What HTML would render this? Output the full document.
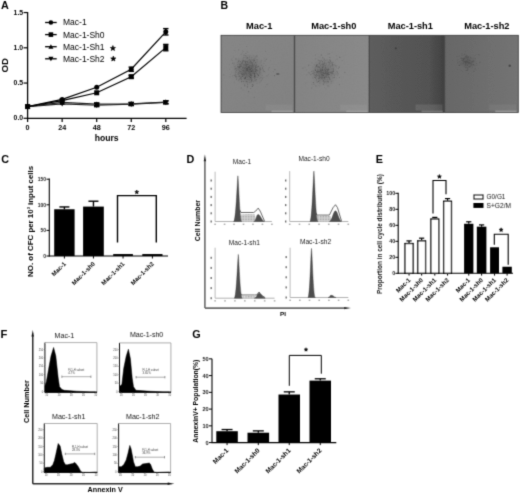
<!DOCTYPE html>
<html><head><meta charset="utf-8"><style>
html,body{margin:0;padding:0;background:#fff;width:520px;height:493px;overflow:hidden}
svg{display:block}
text{font-family:"Liberation Sans",sans-serif}
</style></head><body>
<div id="wrap"><svg width="520" height="493" viewBox="0 0 520 493" font-family="Liberation Sans, sans-serif">
<defs>
<filter id="gb" x="0" y="0" width="520" height="493" filterUnits="userSpaceOnUse"><feConvolveMatrix order="3" kernelMatrix="0.0196 0.1008 0.0196 0.1008 0.5184 0.1008 0.0196 0.1008 0.0196" edgeMode="duplicate"/></filter>
<linearGradient id="g1" x1="0" y1="0" x2="1" y2="1"><stop offset="0" stop-color="#868686"/><stop offset="1" stop-color="#828282"/></linearGradient>
<linearGradient id="g2" x1="0" y1="0" x2="1" y2="0"><stop offset="0" stop-color="#848484"/><stop offset="1" stop-color="#8a8a8a"/></linearGradient>
<linearGradient id="g3" x1="0" y1="0" x2="1" y2="0"><stop offset="0" stop-color="#5e5e5e"/><stop offset="0.8" stop-color="#525252"/><stop offset="1" stop-color="#404040"/></linearGradient>
<linearGradient id="g4" x1="0" y1="0" x2="1" y2="0"><stop offset="0" stop-color="#676767"/><stop offset="1" stop-color="#747474"/></linearGradient>
<radialGradient id="col"><stop offset="0" stop-color="#4a4a4a" stop-opacity="0.55"/><stop offset="0.45" stop-color="#555" stop-opacity="0.3"/><stop offset="1" stop-color="#666" stop-opacity="0"/></radialGradient>
<radialGradient id="col2"><stop offset="0" stop-color="#666" stop-opacity="0.8"/><stop offset="0.5" stop-color="#777" stop-opacity="0.45"/><stop offset="1" stop-color="#888" stop-opacity="0"/></radialGradient>
<filter id="noise" x="0" y="0" width="1" height="1"><feTurbulence type="fractalNoise" baseFrequency="0.9" numOctaves="2" seed="3"/><feColorMatrix type="matrix" values="0 0 0 0 0  0 0 0 0 0  0 0 0 0 0  0 0 0 0.8 -0.35"/><feComposite in2="SourceGraphic" operator="in"/></filter>
<filter id="soft" x="-20%" y="-20%" width="140%" height="140%"><feGaussianBlur stdDeviation="0.3"/></filter>
<pattern id="dots" width="1.6" height="1.6" patternUnits="userSpaceOnUse"><rect width="1.6" height="1.6" fill="#d2d2d2"/><rect width="0.8" height="0.8" fill="#a0a0a0"/></pattern>
<filter id="speck" x="-10%" y="-10%" width="120%" height="120%"><feTurbulence type="fractalNoise" baseFrequency="1.1" numOctaves="1" seed="7" result="t"/><feColorMatrix in="t" type="matrix" values="0 0 0 0 0  0 0 0 0 0  0 0 0 0 0  0 0 0 2.2 -0.6" result="m"/><feComposite in="SourceGraphic" in2="m" operator="in"/></filter>
</defs>
<g filter="url(#gb)">
<text x="0.90" y="8.70" font-size="10.8" font-weight="bold" text-anchor="start" >A</text>
<line x1="27.60" y1="12.00" x2="27.60" y2="118.90" stroke="#000" stroke-width="1.3" />
<line x1="27.00" y1="118.30" x2="186.60" y2="118.30" stroke="#000" stroke-width="1.3" />
<line x1="23.60" y1="118.30" x2="27.60" y2="118.30" stroke="#000" stroke-width="1.2" />
<text x="23.20" y="120.40" font-size="7.9" font-weight="bold" text-anchor="end" textLength="9.6" lengthAdjust="spacingAndGlyphs">0.0</text>
<line x1="23.60" y1="83.05" x2="27.60" y2="83.05" stroke="#000" stroke-width="1.2" />
<text x="23.20" y="85.15" font-size="7.9" font-weight="bold" text-anchor="end" textLength="9.6" lengthAdjust="spacingAndGlyphs">0.5</text>
<line x1="23.60" y1="47.80" x2="27.60" y2="47.80" stroke="#000" stroke-width="1.2" />
<text x="23.20" y="49.90" font-size="7.9" font-weight="bold" text-anchor="end" textLength="9.6" lengthAdjust="spacingAndGlyphs">1.0</text>
<line x1="23.60" y1="12.55" x2="27.60" y2="12.55" stroke="#000" stroke-width="1.2" />
<text x="23.20" y="14.65" font-size="7.9" font-weight="bold" text-anchor="end" textLength="9.6" lengthAdjust="spacingAndGlyphs">1.5</text>
<line x1="27.60" y1="118.30" x2="27.60" y2="122.10" stroke="#000" stroke-width="1.2" />
<text x="27.60" y="129.60" font-size="7.2" font-weight="bold" text-anchor="middle" >0</text>
<line x1="62.15" y1="118.30" x2="62.15" y2="122.10" stroke="#000" stroke-width="1.2" />
<text x="62.15" y="129.60" font-size="7.2" font-weight="bold" text-anchor="middle" >24</text>
<line x1="96.70" y1="118.30" x2="96.70" y2="122.10" stroke="#000" stroke-width="1.2" />
<text x="96.70" y="129.60" font-size="7.2" font-weight="bold" text-anchor="middle" >48</text>
<line x1="131.25" y1="118.30" x2="131.25" y2="122.10" stroke="#000" stroke-width="1.2" />
<text x="131.25" y="129.60" font-size="7.2" font-weight="bold" text-anchor="middle" >72</text>
<line x1="165.80" y1="118.30" x2="165.80" y2="122.10" stroke="#000" stroke-width="1.2" />
<text x="165.80" y="129.60" font-size="7.2" font-weight="bold" text-anchor="middle" >96</text>
<text x="106.70" y="141.00" font-size="8.6" font-weight="bold" text-anchor="middle" >hours</text>
<text transform="translate(8.00,65.30) rotate(-90)" font-size="9.6" font-weight="bold" text-anchor="middle" >OD</text>
<path d="M27.60,106.60 L62.15,103.85 L96.70,105.26 L131.25,104.20 L165.80,102.44" fill="none" stroke="#222" stroke-width="1.2" />
<line x1="96.70" y1="103.85" x2="96.70" y2="106.67" stroke="#000" stroke-width="1.5" />
<line x1="94.00" y1="103.85" x2="99.40" y2="103.85" stroke="#000" stroke-width="1.4" />
<line x1="94.00" y1="106.67" x2="99.40" y2="106.67" stroke="#000" stroke-width="1.4" />
<line x1="131.25" y1="102.79" x2="131.25" y2="105.61" stroke="#000" stroke-width="1.5" />
<line x1="128.55" y1="102.79" x2="133.95" y2="102.79" stroke="#000" stroke-width="1.4" />
<line x1="128.55" y1="105.61" x2="133.95" y2="105.61" stroke="#000" stroke-width="1.4" />
<line x1="165.80" y1="101.03" x2="165.80" y2="103.85" stroke="#000" stroke-width="1.5" />
<line x1="163.10" y1="101.03" x2="168.50" y2="101.03" stroke="#000" stroke-width="1.4" />
<line x1="163.10" y1="103.85" x2="168.50" y2="103.85" stroke="#000" stroke-width="1.4" />
<path d="M27.60,106.60 L62.15,102.44 L96.70,104.20 L131.25,103.78 L165.80,102.08" fill="none" stroke="#222" stroke-width="1.2" />
<line x1="96.70" y1="102.79" x2="96.70" y2="105.61" stroke="#000" stroke-width="1.5" />
<line x1="94.00" y1="102.79" x2="99.40" y2="102.79" stroke="#000" stroke-width="1.4" />
<line x1="94.00" y1="105.61" x2="99.40" y2="105.61" stroke="#000" stroke-width="1.4" />
<line x1="131.25" y1="102.37" x2="131.25" y2="105.19" stroke="#000" stroke-width="1.5" />
<line x1="128.55" y1="102.37" x2="133.95" y2="102.37" stroke="#000" stroke-width="1.4" />
<line x1="128.55" y1="105.19" x2="133.95" y2="105.19" stroke="#000" stroke-width="1.4" />
<line x1="165.80" y1="100.67" x2="165.80" y2="103.49" stroke="#000" stroke-width="1.5" />
<line x1="163.10" y1="100.67" x2="168.50" y2="100.67" stroke="#000" stroke-width="1.4" />
<line x1="163.10" y1="103.49" x2="168.50" y2="103.49" stroke="#000" stroke-width="1.4" />
<path d="M27.60,106.60 L62.15,100.67 L96.70,92.78 L131.25,76.70 L165.80,47.59" fill="none" stroke="#000" stroke-width="1.2" />
<line x1="131.25" y1="75.30" x2="131.25" y2="78.11" stroke="#000" stroke-width="1.5" />
<line x1="128.55" y1="75.30" x2="133.95" y2="75.30" stroke="#000" stroke-width="1.4" />
<line x1="128.55" y1="78.11" x2="133.95" y2="78.11" stroke="#000" stroke-width="1.4" />
<line x1="165.80" y1="44.42" x2="165.80" y2="50.76" stroke="#000" stroke-width="1.5" />
<line x1="163.10" y1="44.42" x2="168.50" y2="44.42" stroke="#000" stroke-width="1.4" />
<line x1="163.10" y1="50.76" x2="168.50" y2="50.76" stroke="#000" stroke-width="1.4" />
<path d="M27.60,106.60 L62.15,99.41 L96.70,87.28 L131.25,69.23 L165.80,31.80" fill="none" stroke="#000" stroke-width="1.2" />
<line x1="131.25" y1="67.12" x2="131.25" y2="71.35" stroke="#000" stroke-width="1.5" />
<line x1="128.55" y1="67.12" x2="133.95" y2="67.12" stroke="#000" stroke-width="1.4" />
<line x1="128.55" y1="71.35" x2="133.95" y2="71.35" stroke="#000" stroke-width="1.4" />
<line x1="165.80" y1="28.62" x2="165.80" y2="34.97" stroke="#000" stroke-width="1.5" />
<line x1="163.10" y1="28.62" x2="168.50" y2="28.62" stroke="#000" stroke-width="1.4" />
<line x1="163.10" y1="34.97" x2="168.50" y2="34.97" stroke="#000" stroke-width="1.4" />
<path d="M24.85,104.35 L30.35,104.35 L27.60,109.35Z" fill="#000"/>
<path d="M59.40,101.60 L64.90,101.60 L62.15,106.60Z" fill="#000"/>
<path d="M93.95,103.01 L99.45,103.01 L96.70,108.01Z" fill="#000"/>
<path d="M128.50,101.95 L134.00,101.95 L131.25,106.95Z" fill="#000"/>
<path d="M163.05,100.19 L168.55,100.19 L165.80,105.19Z" fill="#000"/>
<path d="M24.85,108.85 L30.35,108.85 L27.60,103.85Z" fill="#000"/>
<path d="M59.40,104.69 L64.90,104.69 L62.15,99.69Z" fill="#000"/>
<path d="M93.95,106.45 L99.45,106.45 L96.70,101.45Z" fill="#000"/>
<path d="M128.50,106.03 L134.00,106.03 L131.25,101.03Z" fill="#000"/>
<path d="M163.05,104.33 L168.55,104.33 L165.80,99.33Z" fill="#000"/>
<rect x="25.10" y="104.10" width="5.00" height="5.00" fill="#000" stroke="none" stroke-width="0" />
<rect x="59.65" y="98.17" width="5.00" height="5.00" fill="#000" stroke="none" stroke-width="0" />
<rect x="94.20" y="90.28" width="5.00" height="5.00" fill="#000" stroke="none" stroke-width="0" />
<rect x="128.75" y="74.20" width="5.00" height="5.00" fill="#000" stroke="none" stroke-width="0" />
<rect x="163.30" y="45.09" width="5.00" height="5.00" fill="#000" stroke="none" stroke-width="0" />
<circle cx="27.60" cy="106.60" r="2.5" fill="#000"/>
<circle cx="62.15" cy="99.41" r="2.5" fill="#000"/>
<circle cx="96.70" cy="87.28" r="2.5" fill="#000"/>
<circle cx="131.25" cy="69.23" r="2.5" fill="#000"/>
<circle cx="165.80" cy="31.80" r="2.5" fill="#000"/>
<line x1="45.10" y1="22.50" x2="56.70" y2="22.50" stroke="#000" stroke-width="1.3" />
<circle cx="50.90" cy="22.50" r="2.3" fill="#000"/>
<text x="63.00" y="25.45" font-size="8.5"  text-anchor="start" fill="#000">Mac-1</text>
<line x1="45.10" y1="34.60" x2="56.70" y2="34.60" stroke="#000" stroke-width="1.3" />
<rect x="48.60" y="32.30" width="4.60" height="4.60" fill="#000" stroke="none" stroke-width="0" />
<text x="63.00" y="37.55" font-size="8.5"  text-anchor="start" fill="#000">Mac-1-Sh0</text>
<line x1="45.10" y1="46.70" x2="56.70" y2="46.70" stroke="#000" stroke-width="1.3" />
<path d="M48.37,48.77 L53.43,48.77 L50.90,44.17Z" fill="#000"/>
<text x="63.00" y="49.65" font-size="8.5"  text-anchor="start" fill="#000">Mac-1-Sh1</text>
<line x1="45.10" y1="58.80" x2="56.70" y2="58.80" stroke="#000" stroke-width="1.3" />
<path d="M48.37,56.73 L53.43,56.73 L50.90,61.33Z" fill="#000"/>
<text x="63.00" y="61.75" font-size="8.5"  text-anchor="start" fill="#000">Mac-1-Sh2</text>
<polygon points="112.90,45.60 113.57,47.38 115.47,47.47 113.98,48.65 114.49,50.48 112.90,49.43 111.31,50.48 111.82,48.65 110.33,47.47 112.23,47.38" fill="#000" stroke="#000" stroke-width="0.63" stroke-linejoin="round"/>
<polygon points="113.30,56.10 113.97,57.88 115.87,57.97 114.38,59.15 114.89,60.98 113.30,59.93 111.71,60.98 112.22,59.15 110.73,57.97 112.63,57.88" fill="#000" stroke="#000" stroke-width="0.63" stroke-linejoin="round"/>
<text x="220.50" y="8.80" font-size="10.5" font-weight="bold" text-anchor="start" >B</text>
<rect x="221.00" y="35.30" width="73.50" height="77.20" fill="url(#g1)" stroke="none" stroke-width="0" />
<rect x="221.00" y="35.3" width="73.50" height="77.20" fill="#000" opacity="0.06" filter="url(#noise)"/>
<text x="259.20" y="28.80" font-size="9.25" font-weight="bold" text-anchor="middle" >Mac-1</text>
<rect x="294.50" y="35.30" width="74.80" height="77.20" fill="url(#g2)" stroke="none" stroke-width="0" />
<rect x="294.50" y="35.3" width="74.80" height="77.20" fill="#000" opacity="0.06" filter="url(#noise)"/>
<text x="333.80" y="28.80" font-size="9.25" font-weight="bold" text-anchor="middle" >Mac-1-sh0</text>
<rect x="369.30" y="35.30" width="75.20" height="77.20" fill="url(#g3)" stroke="none" stroke-width="0" />
<rect x="369.30" y="35.3" width="75.20" height="77.20" fill="#000" opacity="0.06" filter="url(#noise)"/>
<text x="410.30" y="28.80" font-size="9.25" font-weight="bold" text-anchor="middle" >Mac-1-sh1</text>
<rect x="444.50" y="35.30" width="73.80" height="77.20" fill="url(#g4)" stroke="none" stroke-width="0" />
<rect x="444.50" y="35.3" width="73.80" height="77.20" fill="#000" opacity="0.06" filter="url(#noise)"/>
<text x="486.90" y="28.80" font-size="9.25" font-weight="bold" text-anchor="middle" >Mac-1-sh2</text>
<g filter="url(#soft)">
<ellipse cx="248.5" cy="70.0" rx="17.6" ry="17.2" fill="url(#col)" opacity="1.0"/>
<circle cx="238.7" cy="72.9" r="0.58" fill="#3c3c3c" opacity="0.34"/>
<circle cx="237.9" cy="69.5" r="0.36" fill="#3c3c3c" opacity="0.35"/>
<circle cx="238.8" cy="59.9" r="0.33" fill="#3c3c3c" opacity="0.29"/>
<circle cx="260.8" cy="77.7" r="0.51" fill="#3c3c3c" opacity="0.21"/>
<circle cx="269.1" cy="67.7" r="0.50" fill="#3c3c3c" opacity="0.38"/>
<circle cx="249.3" cy="71.1" r="0.46" fill="#3c3c3c" opacity="0.22"/>
<circle cx="250.7" cy="75.4" r="0.31" fill="#3c3c3c" opacity="0.34"/>
<circle cx="234.2" cy="75.5" r="0.46" fill="#3c3c3c" opacity="0.39"/>
<circle cx="236.7" cy="70.0" r="0.44" fill="#3c3c3c" opacity="0.28"/>
<circle cx="274.9" cy="69.6" r="0.55" fill="#3c3c3c" opacity="0.41"/>
<circle cx="246.2" cy="75.2" r="0.39" fill="#3c3c3c" opacity="0.22"/>
<circle cx="249.3" cy="62.2" r="0.55" fill="#3c3c3c" opacity="0.32"/>
<circle cx="263.5" cy="66.1" r="0.30" fill="#3c3c3c" opacity="0.26"/>
<circle cx="256.1" cy="65.3" r="0.59" fill="#3c3c3c" opacity="0.32"/>
<circle cx="258.6" cy="74.9" r="0.53" fill="#3c3c3c" opacity="0.28"/>
<circle cx="254.6" cy="73.7" r="0.59" fill="#3c3c3c" opacity="0.43"/>
<circle cx="252.9" cy="74.0" r="0.33" fill="#3c3c3c" opacity="0.22"/>
<circle cx="250.0" cy="65.3" r="0.47" fill="#3c3c3c" opacity="0.33"/>
<circle cx="253.2" cy="81.8" r="0.34" fill="#3c3c3c" opacity="0.39"/>
<circle cx="254.7" cy="75.4" r="0.36" fill="#3c3c3c" opacity="0.28"/>
<circle cx="262.7" cy="67.4" r="0.39" fill="#3c3c3c" opacity="0.47"/>
<circle cx="250.5" cy="77.6" r="0.56" fill="#3c3c3c" opacity="0.39"/>
<circle cx="268.0" cy="83.9" r="0.36" fill="#3c3c3c" opacity="0.28"/>
<circle cx="249.5" cy="63.1" r="0.39" fill="#3c3c3c" opacity="0.22"/>
<circle cx="257.4" cy="75.5" r="0.37" fill="#3c3c3c" opacity="0.38"/>
<circle cx="242.4" cy="76.2" r="0.59" fill="#3c3c3c" opacity="0.35"/>
<circle cx="234.2" cy="62.9" r="0.35" fill="#3c3c3c" opacity="0.25"/>
<circle cx="260.9" cy="62.2" r="0.37" fill="#3c3c3c" opacity="0.26"/>
<circle cx="247.2" cy="51.5" r="0.36" fill="#3c3c3c" opacity="0.49"/>
<circle cx="256.5" cy="62.8" r="0.43" fill="#3c3c3c" opacity="0.23"/>
<circle cx="268.4" cy="74.8" r="0.37" fill="#3c3c3c" opacity="0.41"/>
<circle cx="247.8" cy="84.5" r="0.48" fill="#3c3c3c" opacity="0.29"/>
<circle cx="254.3" cy="81.1" r="0.32" fill="#3c3c3c" opacity="0.27"/>
<circle cx="233.9" cy="64.4" r="0.48" fill="#3c3c3c" opacity="0.28"/>
<circle cx="253.2" cy="67.4" r="0.30" fill="#3c3c3c" opacity="0.28"/>
<circle cx="245.8" cy="70.9" r="0.35" fill="#3c3c3c" opacity="0.31"/>
<circle cx="244.7" cy="68.2" r="0.41" fill="#3c3c3c" opacity="0.47"/>
<circle cx="260.1" cy="68.6" r="0.51" fill="#3c3c3c" opacity="0.38"/>
<circle cx="249.9" cy="71.6" r="0.31" fill="#3c3c3c" opacity="0.47"/>
<circle cx="242.3" cy="50.9" r="0.31" fill="#3c3c3c" opacity="0.39"/>
<circle cx="235.6" cy="71.4" r="0.40" fill="#3c3c3c" opacity="0.50"/>
<circle cx="257.5" cy="74.5" r="0.52" fill="#3c3c3c" opacity="0.47"/>
<circle cx="247.5" cy="57.9" r="0.54" fill="#3c3c3c" opacity="0.47"/>
<circle cx="241.2" cy="79.5" r="0.57" fill="#3c3c3c" opacity="0.46"/>
<circle cx="236.2" cy="76.9" r="0.56" fill="#3c3c3c" opacity="0.37"/>
<circle cx="242.9" cy="64.6" r="0.47" fill="#3c3c3c" opacity="0.38"/>
<circle cx="258.5" cy="75.4" r="0.60" fill="#3c3c3c" opacity="0.46"/>
<circle cx="247.4" cy="62.3" r="0.52" fill="#3c3c3c" opacity="0.37"/>
<circle cx="234.3" cy="75.4" r="0.33" fill="#3c3c3c" opacity="0.43"/>
<circle cx="259.2" cy="72.0" r="0.44" fill="#3c3c3c" opacity="0.27"/>
<circle cx="245.5" cy="61.3" r="0.48" fill="#3c3c3c" opacity="0.48"/>
<circle cx="248.5" cy="71.2" r="0.39" fill="#3c3c3c" opacity="0.40"/>
<circle cx="249.9" cy="74.5" r="0.57" fill="#3c3c3c" opacity="0.40"/>
<circle cx="232.7" cy="75.9" r="0.40" fill="#3c3c3c" opacity="0.40"/>
<circle cx="251.2" cy="77.9" r="0.54" fill="#3c3c3c" opacity="0.47"/>
<circle cx="254.3" cy="64.7" r="0.47" fill="#3c3c3c" opacity="0.29"/>
<circle cx="254.6" cy="76.9" r="0.55" fill="#3c3c3c" opacity="0.45"/>
<circle cx="243.8" cy="51.5" r="0.38" fill="#3c3c3c" opacity="0.25"/>
<circle cx="242.4" cy="71.9" r="0.36" fill="#3c3c3c" opacity="0.32"/>
<circle cx="241.9" cy="63.5" r="0.39" fill="#3c3c3c" opacity="0.45"/>
<circle cx="257.2" cy="69.0" r="0.32" fill="#3c3c3c" opacity="0.21"/>
<circle cx="250.1" cy="68.4" r="0.51" fill="#3c3c3c" opacity="0.37"/>
<circle cx="243.4" cy="82.9" r="0.31" fill="#3c3c3c" opacity="0.24"/>
<circle cx="246.8" cy="70.5" r="0.55" fill="#3c3c3c" opacity="0.27"/>
<circle cx="250.1" cy="71.9" r="0.49" fill="#3c3c3c" opacity="0.33"/>
<circle cx="240.5" cy="61.7" r="0.54" fill="#3c3c3c" opacity="0.49"/>
<circle cx="246.4" cy="65.2" r="0.44" fill="#3c3c3c" opacity="0.25"/>
<circle cx="257.5" cy="70.6" r="0.51" fill="#3c3c3c" opacity="0.25"/>
<circle cx="247.5" cy="77.1" r="0.51" fill="#3c3c3c" opacity="0.36"/>
<circle cx="238.4" cy="61.4" r="0.42" fill="#3c3c3c" opacity="0.44"/>
<circle cx="251.3" cy="68.1" r="0.58" fill="#3c3c3c" opacity="0.42"/>
<circle cx="254.5" cy="76.2" r="0.49" fill="#3c3c3c" opacity="0.47"/>
<circle cx="241.1" cy="77.1" r="0.56" fill="#3c3c3c" opacity="0.44"/>
<circle cx="256.9" cy="67.0" r="0.50" fill="#3c3c3c" opacity="0.26"/>
<circle cx="245.9" cy="55.8" r="0.49" fill="#3c3c3c" opacity="0.42"/>
<circle cx="252.4" cy="86.3" r="0.59" fill="#3c3c3c" opacity="0.49"/>
<circle cx="234.7" cy="66.8" r="0.40" fill="#3c3c3c" opacity="0.47"/>
<circle cx="253.1" cy="64.3" r="0.32" fill="#3c3c3c" opacity="0.33"/>
<circle cx="235.5" cy="65.9" r="0.45" fill="#3c3c3c" opacity="0.21"/>
<circle cx="249.6" cy="67.4" r="0.54" fill="#3c3c3c" opacity="0.25"/>
<circle cx="241.3" cy="81.8" r="0.34" fill="#3c3c3c" opacity="0.24"/>
<circle cx="235.7" cy="68.7" r="0.55" fill="#3c3c3c" opacity="0.41"/>
<circle cx="257.3" cy="67.0" r="0.58" fill="#3c3c3c" opacity="0.23"/>
<circle cx="250.2" cy="79.4" r="0.39" fill="#3c3c3c" opacity="0.42"/>
<circle cx="242.2" cy="62.7" r="0.55" fill="#3c3c3c" opacity="0.37"/>
<circle cx="245.5" cy="77.1" r="0.55" fill="#3c3c3c" opacity="0.47"/>
<circle cx="252.5" cy="84.7" r="0.59" fill="#3c3c3c" opacity="0.36"/>
<circle cx="243.7" cy="67.7" r="0.46" fill="#3c3c3c" opacity="0.35"/>
<circle cx="247.0" cy="68.9" r="0.59" fill="#3c3c3c" opacity="0.35"/>
<circle cx="236.8" cy="78.2" r="0.47" fill="#3c3c3c" opacity="0.35"/>
<circle cx="247.4" cy="67.3" r="0.46" fill="#3c3c3c" opacity="0.32"/>
<circle cx="266.0" cy="65.3" r="0.38" fill="#3c3c3c" opacity="0.34"/>
<circle cx="254.5" cy="76.0" r="0.54" fill="#3c3c3c" opacity="0.47"/>
<circle cx="241.6" cy="71.0" r="0.36" fill="#3c3c3c" opacity="0.39"/>
<circle cx="252.3" cy="68.1" r="0.53" fill="#3c3c3c" opacity="0.21"/>
<circle cx="250.5" cy="75.3" r="0.51" fill="#3c3c3c" opacity="0.30"/>
<circle cx="241.7" cy="78.6" r="0.33" fill="#3c3c3c" opacity="0.42"/>
<circle cx="255.4" cy="76.5" r="0.38" fill="#3c3c3c" opacity="0.26"/>
<circle cx="240.1" cy="68.4" r="0.41" fill="#3c3c3c" opacity="0.32"/>
<circle cx="243.9" cy="69.2" r="0.36" fill="#3c3c3c" opacity="0.39"/>
<circle cx="242.2" cy="62.7" r="0.56" fill="#3c3c3c" opacity="0.38"/>
<circle cx="252.1" cy="65.6" r="0.52" fill="#3c3c3c" opacity="0.44"/>
<circle cx="254.2" cy="66.1" r="0.39" fill="#3c3c3c" opacity="0.48"/>
<circle cx="254.2" cy="97.4" r="0.57" fill="#3c3c3c" opacity="0.24"/>
<circle cx="249.4" cy="82.5" r="0.38" fill="#3c3c3c" opacity="0.23"/>
<circle cx="252.6" cy="62.9" r="0.54" fill="#3c3c3c" opacity="0.24"/>
<circle cx="238.5" cy="76.8" r="0.31" fill="#3c3c3c" opacity="0.26"/>
<circle cx="241.2" cy="54.4" r="0.59" fill="#3c3c3c" opacity="0.23"/>
<circle cx="235.0" cy="69.5" r="0.45" fill="#3c3c3c" opacity="0.41"/>
<circle cx="249.6" cy="72.8" r="0.33" fill="#3c3c3c" opacity="0.21"/>
<circle cx="239.4" cy="67.0" r="0.47" fill="#3c3c3c" opacity="0.24"/>
<circle cx="250.7" cy="74.8" r="0.55" fill="#3c3c3c" opacity="0.50"/>
<circle cx="251.7" cy="68.5" r="0.32" fill="#3c3c3c" opacity="0.49"/>
<circle cx="235.3" cy="73.1" r="0.40" fill="#3c3c3c" opacity="0.34"/>
<circle cx="240.1" cy="69.2" r="0.48" fill="#3c3c3c" opacity="0.20"/>
<circle cx="243.8" cy="55.7" r="0.35" fill="#3c3c3c" opacity="0.34"/>
<circle cx="248.0" cy="62.1" r="0.36" fill="#3c3c3c" opacity="0.25"/>
<circle cx="247.1" cy="69.9" r="0.57" fill="#3c3c3c" opacity="0.44"/>
<circle cx="244.0" cy="55.1" r="0.49" fill="#3c3c3c" opacity="0.32"/>
<circle cx="240.8" cy="64.6" r="0.59" fill="#3c3c3c" opacity="0.44"/>
<circle cx="247.6" cy="87.1" r="0.52" fill="#3c3c3c" opacity="0.43"/>
<circle cx="251.7" cy="62.7" r="0.57" fill="#3c3c3c" opacity="0.46"/>
<circle cx="243.9" cy="57.5" r="0.53" fill="#3c3c3c" opacity="0.32"/>
<circle cx="248.0" cy="67.1" r="0.40" fill="#3c3c3c" opacity="0.34"/>
<circle cx="256.0" cy="70.5" r="0.49" fill="#3c3c3c" opacity="0.39"/>
<circle cx="250.7" cy="88.6" r="0.50" fill="#3c3c3c" opacity="0.30"/>
<circle cx="242.9" cy="61.5" r="0.46" fill="#3c3c3c" opacity="0.32"/>
<circle cx="260.0" cy="70.0" r="0.51" fill="#3c3c3c" opacity="0.43"/>
<circle cx="250.2" cy="69.8" r="0.48" fill="#3c3c3c" opacity="0.42"/>
<circle cx="248.2" cy="77.9" r="0.32" fill="#3c3c3c" opacity="0.26"/>
<circle cx="245.9" cy="72.5" r="0.38" fill="#3c3c3c" opacity="0.47"/>
<circle cx="239.4" cy="67.1" r="0.59" fill="#3c3c3c" opacity="0.37"/>
<circle cx="259.9" cy="69.7" r="0.54" fill="#3c3c3c" opacity="0.22"/>
<circle cx="237.5" cy="62.4" r="0.31" fill="#3c3c3c" opacity="0.48"/>
<circle cx="253.3" cy="77.4" r="0.35" fill="#3c3c3c" opacity="0.35"/>
<circle cx="246.4" cy="68.3" r="0.58" fill="#3c3c3c" opacity="0.33"/>
<circle cx="237.9" cy="68.2" r="0.41" fill="#3c3c3c" opacity="0.29"/>
<circle cx="242.7" cy="61.7" r="0.39" fill="#3c3c3c" opacity="0.41"/>
<circle cx="248.1" cy="71.3" r="0.37" fill="#3c3c3c" opacity="0.21"/>
<circle cx="255.9" cy="80.9" r="0.42" fill="#3c3c3c" opacity="0.47"/>
<circle cx="248.5" cy="67.5" r="0.60" fill="#3c3c3c" opacity="0.48"/>
<circle cx="264.1" cy="77.6" r="0.43" fill="#3c3c3c" opacity="0.34"/>
<circle cx="254.4" cy="69.0" r="0.46" fill="#3c3c3c" opacity="0.48"/>
<circle cx="247.0" cy="61.4" r="0.59" fill="#3c3c3c" opacity="0.45"/>
<circle cx="245.4" cy="67.7" r="0.49" fill="#3c3c3c" opacity="0.34"/>
<circle cx="249.3" cy="72.4" r="0.46" fill="#3c3c3c" opacity="0.24"/>
<circle cx="237.4" cy="74.1" r="0.44" fill="#3c3c3c" opacity="0.28"/>
<circle cx="241.2" cy="66.0" r="0.53" fill="#3c3c3c" opacity="0.36"/>
<circle cx="268.3" cy="69.7" r="0.52" fill="#3c3c3c" opacity="0.27"/>
<circle cx="261.3" cy="80.8" r="0.54" fill="#3c3c3c" opacity="0.39"/>
<circle cx="244.5" cy="74.8" r="0.51" fill="#3c3c3c" opacity="0.37"/>
<circle cx="239.0" cy="64.0" r="0.53" fill="#3c3c3c" opacity="0.26"/>
<circle cx="248.6" cy="91.8" r="0.57" fill="#3c3c3c" opacity="0.46"/>
<circle cx="251.2" cy="70.7" r="0.38" fill="#3c3c3c" opacity="0.33"/>
<circle cx="245.8" cy="67.5" r="0.46" fill="#3c3c3c" opacity="0.22"/>
<circle cx="258.8" cy="76.1" r="0.47" fill="#3c3c3c" opacity="0.39"/>
<circle cx="242.1" cy="76.4" r="0.36" fill="#3c3c3c" opacity="0.30"/>
<circle cx="248.0" cy="55.1" r="0.32" fill="#3c3c3c" opacity="0.24"/>
<circle cx="252.6" cy="59.8" r="0.53" fill="#3c3c3c" opacity="0.26"/>
<circle cx="243.0" cy="72.8" r="0.54" fill="#3c3c3c" opacity="0.31"/>
<circle cx="234.8" cy="50.7" r="0.40" fill="#3c3c3c" opacity="0.36"/>
<circle cx="248.1" cy="52.4" r="0.43" fill="#3c3c3c" opacity="0.31"/>
<circle cx="261.9" cy="79.1" r="0.32" fill="#3c3c3c" opacity="0.22"/>
<circle cx="240.0" cy="66.5" r="0.51" fill="#3c3c3c" opacity="0.29"/>
<circle cx="249.0" cy="66.9" r="0.36" fill="#3c3c3c" opacity="0.40"/>
<circle cx="254.4" cy="73.3" r="0.52" fill="#3c3c3c" opacity="0.41"/>
<circle cx="247.6" cy="74.2" r="0.41" fill="#3c3c3c" opacity="0.42"/>
<circle cx="245.8" cy="72.9" r="0.51" fill="#3c3c3c" opacity="0.37"/>
<circle cx="265.0" cy="60.9" r="0.57" fill="#3c3c3c" opacity="0.33"/>
<circle cx="250.7" cy="63.7" r="0.40" fill="#3c3c3c" opacity="0.32"/>
<circle cx="264.1" cy="63.4" r="0.37" fill="#3c3c3c" opacity="0.31"/>
<circle cx="243.5" cy="75.5" r="0.42" fill="#3c3c3c" opacity="0.32"/>
<circle cx="252.0" cy="79.5" r="0.54" fill="#3c3c3c" opacity="0.36"/>
<circle cx="253.8" cy="61.4" r="0.35" fill="#3c3c3c" opacity="0.43"/>
<circle cx="253.3" cy="65.7" r="0.31" fill="#3c3c3c" opacity="0.35"/>
<circle cx="238.5" cy="67.2" r="0.59" fill="#3c3c3c" opacity="0.40"/>
<circle cx="249.5" cy="67.3" r="0.46" fill="#3c3c3c" opacity="0.44"/>
<circle cx="251.4" cy="71.6" r="0.52" fill="#3c3c3c" opacity="0.47"/>
<circle cx="258.3" cy="75.6" r="0.34" fill="#3c3c3c" opacity="0.42"/>
<circle cx="244.9" cy="65.3" r="0.37" fill="#3c3c3c" opacity="0.43"/>
<circle cx="235.0" cy="68.2" r="0.42" fill="#3c3c3c" opacity="0.30"/>
<circle cx="260.2" cy="67.7" r="0.45" fill="#3c3c3c" opacity="0.36"/>
<circle cx="246.2" cy="58.0" r="0.57" fill="#3c3c3c" opacity="0.32"/>
<circle cx="254.0" cy="59.7" r="0.56" fill="#3c3c3c" opacity="0.44"/>
<circle cx="256.9" cy="55.9" r="0.59" fill="#3c3c3c" opacity="0.39"/>
<circle cx="236.1" cy="68.2" r="0.54" fill="#3c3c3c" opacity="0.33"/>
<circle cx="244.6" cy="72.1" r="0.52" fill="#3c3c3c" opacity="0.50"/>
<circle cx="245.1" cy="73.3" r="0.36" fill="#3c3c3c" opacity="0.33"/>
<circle cx="243.0" cy="89.9" r="0.32" fill="#3c3c3c" opacity="0.29"/>
<circle cx="257.2" cy="77.4" r="0.53" fill="#3c3c3c" opacity="0.25"/>
<circle cx="256.7" cy="73.3" r="0.48" fill="#3c3c3c" opacity="0.47"/>
<circle cx="252.2" cy="70.8" r="0.36" fill="#3c3c3c" opacity="0.27"/>
<circle cx="249.7" cy="82.3" r="0.48" fill="#3c3c3c" opacity="0.27"/>
<circle cx="251.1" cy="75.8" r="0.35" fill="#3c3c3c" opacity="0.43"/>
<circle cx="244.7" cy="79.1" r="0.55" fill="#3c3c3c" opacity="0.34"/>
<circle cx="247.4" cy="86.3" r="0.57" fill="#3c3c3c" opacity="0.30"/>
<circle cx="229.3" cy="64.3" r="0.44" fill="#3c3c3c" opacity="0.27"/>
<circle cx="267.0" cy="75.8" r="0.54" fill="#3c3c3c" opacity="0.32"/>
<circle cx="239.0" cy="68.4" r="0.38" fill="#3c3c3c" opacity="0.50"/>
<circle cx="245.3" cy="65.2" r="0.30" fill="#3c3c3c" opacity="0.34"/>
<circle cx="238.6" cy="80.1" r="0.51" fill="#3c3c3c" opacity="0.38"/>
<circle cx="251.1" cy="73.8" r="0.40" fill="#3c3c3c" opacity="0.28"/>
<circle cx="255.1" cy="63.1" r="0.49" fill="#3c3c3c" opacity="0.50"/>
<circle cx="247.5" cy="79.6" r="0.35" fill="#3c3c3c" opacity="0.43"/>
<circle cx="263.3" cy="70.1" r="0.55" fill="#3c3c3c" opacity="0.45"/>
<circle cx="254.0" cy="73.1" r="0.51" fill="#3c3c3c" opacity="0.23"/>
<circle cx="239.6" cy="71.1" r="0.59" fill="#3c3c3c" opacity="0.38"/>
<circle cx="252.7" cy="64.8" r="0.54" fill="#3c3c3c" opacity="0.33"/>
<circle cx="251.5" cy="68.3" r="0.55" fill="#3c3c3c" opacity="0.26"/>
<circle cx="239.1" cy="67.4" r="0.35" fill="#3c3c3c" opacity="0.45"/>
<circle cx="245.9" cy="76.2" r="0.32" fill="#3c3c3c" opacity="0.29"/>
<circle cx="236.1" cy="72.5" r="0.41" fill="#3c3c3c" opacity="0.41"/>
<circle cx="254.8" cy="74.8" r="0.44" fill="#3c3c3c" opacity="0.49"/>
<circle cx="254.1" cy="60.0" r="0.30" fill="#3c3c3c" opacity="0.31"/>
<circle cx="247.0" cy="64.4" r="0.47" fill="#3c3c3c" opacity="0.34"/>
<circle cx="273.2" cy="71.6" r="0.54" fill="#3c3c3c" opacity="0.26"/>
<circle cx="243.6" cy="65.7" r="0.41" fill="#3c3c3c" opacity="0.36"/>
<circle cx="246.3" cy="76.8" r="0.42" fill="#3c3c3c" opacity="0.40"/>
<circle cx="248.3" cy="75.2" r="0.52" fill="#3c3c3c" opacity="0.30"/>
<circle cx="258.2" cy="66.6" r="0.52" fill="#3c3c3c" opacity="0.30"/>
<circle cx="250.1" cy="67.0" r="0.34" fill="#3c3c3c" opacity="0.23"/>
<circle cx="243.0" cy="59.0" r="0.35" fill="#3c3c3c" opacity="0.32"/>
<circle cx="254.1" cy="61.1" r="0.33" fill="#3c3c3c" opacity="0.27"/>
<circle cx="250.8" cy="73.4" r="0.42" fill="#3c3c3c" opacity="0.22"/>
<circle cx="255.9" cy="66.1" r="0.45" fill="#3c3c3c" opacity="0.39"/>
<circle cx="250.1" cy="55.6" r="0.42" fill="#3c3c3c" opacity="0.30"/>
<circle cx="247.3" cy="70.7" r="0.42" fill="#3c3c3c" opacity="0.41"/>
<circle cx="262.5" cy="68.4" r="0.50" fill="#3c3c3c" opacity="0.38"/>
<circle cx="255.6" cy="70.8" r="0.40" fill="#3c3c3c" opacity="0.40"/>
<circle cx="254.6" cy="74.7" r="0.45" fill="#3c3c3c" opacity="0.44"/>
<circle cx="253.5" cy="60.4" r="0.35" fill="#3c3c3c" opacity="0.43"/>
<circle cx="256.8" cy="64.4" r="0.41" fill="#3c3c3c" opacity="0.35"/>
<circle cx="256.5" cy="79.6" r="0.60" fill="#3c3c3c" opacity="0.35"/>
<circle cx="245.2" cy="55.5" r="0.36" fill="#3c3c3c" opacity="0.48"/>
<circle cx="244.8" cy="66.3" r="0.32" fill="#3c3c3c" opacity="0.27"/>
<circle cx="237.5" cy="64.4" r="0.40" fill="#3c3c3c" opacity="0.48"/>
<circle cx="242.8" cy="76.7" r="0.34" fill="#3c3c3c" opacity="0.49"/>
<circle cx="259.9" cy="82.7" r="0.46" fill="#3c3c3c" opacity="0.37"/>
<circle cx="242.7" cy="67.7" r="0.57" fill="#3c3c3c" opacity="0.50"/>
<circle cx="253.0" cy="60.4" r="0.34" fill="#3c3c3c" opacity="0.45"/>
<circle cx="244.4" cy="86.1" r="0.37" fill="#3c3c3c" opacity="0.37"/>
<circle cx="251.0" cy="65.6" r="0.46" fill="#3c3c3c" opacity="0.22"/>
<circle cx="253.4" cy="71.0" r="0.60" fill="#3c3c3c" opacity="0.48"/>
<circle cx="244.8" cy="64.4" r="0.50" fill="#3c3c3c" opacity="0.42"/>
<circle cx="240.6" cy="77.1" r="0.54" fill="#3c3c3c" opacity="0.20"/>
<circle cx="251.3" cy="78.3" r="0.34" fill="#3c3c3c" opacity="0.32"/>
<circle cx="244.0" cy="68.0" r="0.46" fill="#3c3c3c" opacity="0.28"/>
<circle cx="242.0" cy="67.1" r="0.49" fill="#3c3c3c" opacity="0.21"/>
<circle cx="246.4" cy="66.2" r="0.59" fill="#3c3c3c" opacity="0.38"/>
<circle cx="240.4" cy="71.5" r="0.49" fill="#3c3c3c" opacity="0.41"/>
<circle cx="249.2" cy="57.0" r="0.45" fill="#3c3c3c" opacity="0.50"/>
<circle cx="256.8" cy="57.0" r="0.42" fill="#3c3c3c" opacity="0.33"/>
<circle cx="232.6" cy="63.2" r="0.46" fill="#3c3c3c" opacity="0.36"/>
<circle cx="232.7" cy="77.0" r="0.40" fill="#3c3c3c" opacity="0.22"/>
<circle cx="245.9" cy="53.5" r="0.52" fill="#3c3c3c" opacity="0.38"/>
<circle cx="248.6" cy="63.3" r="0.48" fill="#3c3c3c" opacity="0.22"/>
<circle cx="254.7" cy="76.0" r="0.45" fill="#3c3c3c" opacity="0.32"/>
<circle cx="260.2" cy="73.9" r="0.46" fill="#3c3c3c" opacity="0.27"/>
<circle cx="245.7" cy="77.3" r="0.37" fill="#3c3c3c" opacity="0.22"/>
<circle cx="266.2" cy="59.2" r="0.50" fill="#3c3c3c" opacity="0.46"/>
<circle cx="235.8" cy="76.7" r="0.37" fill="#3c3c3c" opacity="0.42"/>
<circle cx="232.7" cy="63.1" r="0.33" fill="#3c3c3c" opacity="0.44"/>
<circle cx="255.6" cy="76.8" r="0.59" fill="#3c3c3c" opacity="0.20"/>
<circle cx="248.8" cy="76.6" r="0.40" fill="#3c3c3c" opacity="0.22"/>
<circle cx="260.1" cy="61.2" r="0.42" fill="#3c3c3c" opacity="0.31"/>
<circle cx="246.4" cy="68.8" r="0.31" fill="#3c3c3c" opacity="0.47"/>
<circle cx="245.2" cy="78.6" r="0.58" fill="#3c3c3c" opacity="0.49"/>
<circle cx="243.1" cy="70.9" r="0.39" fill="#3c3c3c" opacity="0.48"/>
<circle cx="252.7" cy="66.9" r="0.55" fill="#3c3c3c" opacity="0.31"/>
<circle cx="243.7" cy="70.8" r="0.56" fill="#3c3c3c" opacity="0.50"/>
<circle cx="251.9" cy="80.5" r="0.36" fill="#3c3c3c" opacity="0.46"/>
<circle cx="252.1" cy="71.1" r="0.52" fill="#3c3c3c" opacity="0.29"/>
<circle cx="261.6" cy="60.8" r="0.51" fill="#3c3c3c" opacity="0.24"/>
<circle cx="242.2" cy="52.7" r="0.43" fill="#3c3c3c" opacity="0.22"/>
<circle cx="249.6" cy="76.6" r="0.51" fill="#3c3c3c" opacity="0.26"/>
<circle cx="251.0" cy="75.2" r="0.50" fill="#3c3c3c" opacity="0.44"/>
<circle cx="240.3" cy="78.2" r="0.57" fill="#3c3c3c" opacity="0.38"/>
<circle cx="249.4" cy="76.5" r="0.58" fill="#3c3c3c" opacity="0.40"/>
<circle cx="246.6" cy="81.0" r="0.33" fill="#3c3c3c" opacity="0.49"/>
<circle cx="239.4" cy="73.5" r="0.46" fill="#3c3c3c" opacity="0.21"/>
<circle cx="243.2" cy="66.3" r="0.38" fill="#3c3c3c" opacity="0.44"/>
<circle cx="254.1" cy="73.3" r="0.53" fill="#3c3c3c" opacity="0.27"/>
<circle cx="246.7" cy="79.7" r="0.36" fill="#3c3c3c" opacity="0.47"/>
<circle cx="250.6" cy="69.8" r="0.44" fill="#3c3c3c" opacity="0.43"/>
<circle cx="234.7" cy="81.9" r="0.45" fill="#3c3c3c" opacity="0.25"/>
<circle cx="237.7" cy="66.1" r="0.41" fill="#3c3c3c" opacity="0.40"/>
<circle cx="250.5" cy="60.8" r="0.45" fill="#3c3c3c" opacity="0.45"/>
<circle cx="244.6" cy="61.3" r="0.59" fill="#3c3c3c" opacity="0.25"/>
<circle cx="249.4" cy="65.4" r="0.48" fill="#3c3c3c" opacity="0.27"/>
<circle cx="235.7" cy="74.9" r="0.54" fill="#3c3c3c" opacity="0.44"/>
<circle cx="249.3" cy="79.0" r="0.37" fill="#3c3c3c" opacity="0.37"/>
<circle cx="246.4" cy="70.0" r="0.48" fill="#3c3c3c" opacity="0.41"/>
<circle cx="233.9" cy="63.0" r="0.35" fill="#3c3c3c" opacity="0.25"/>
<circle cx="257.8" cy="71.0" r="0.43" fill="#3c3c3c" opacity="0.33"/>
<circle cx="247.3" cy="83.9" r="0.32" fill="#3c3c3c" opacity="0.47"/>
<circle cx="239.4" cy="65.9" r="0.54" fill="#3c3c3c" opacity="0.27"/>
<circle cx="252.7" cy="75.4" r="0.31" fill="#3c3c3c" opacity="0.29"/>
<circle cx="241.4" cy="63.4" r="0.38" fill="#3c3c3c" opacity="0.38"/>
<circle cx="261.1" cy="77.6" r="0.35" fill="#3c3c3c" opacity="0.28"/>
<circle cx="255.1" cy="80.1" r="0.55" fill="#3c3c3c" opacity="0.44"/>
<circle cx="256.1" cy="73.0" r="0.41" fill="#3c3c3c" opacity="0.26"/>
<circle cx="250.8" cy="69.6" r="0.45" fill="#3c3c3c" opacity="0.43"/>
<circle cx="253.0" cy="69.6" r="0.44" fill="#3c3c3c" opacity="0.42"/>
<circle cx="254.3" cy="71.4" r="0.57" fill="#3c3c3c" opacity="0.24"/>
<circle cx="243.2" cy="74.1" r="0.43" fill="#3c3c3c" opacity="0.22"/>
<circle cx="274.5" cy="75.6" r="0.53" fill="#3c3c3c" opacity="0.42"/>
<circle cx="249.3" cy="75.9" r="0.47" fill="#3c3c3c" opacity="0.27"/>
<circle cx="230.5" cy="74.3" r="0.41" fill="#3c3c3c" opacity="0.30"/>
<circle cx="259.4" cy="68.7" r="0.31" fill="#3c3c3c" opacity="0.32"/>
<circle cx="246.9" cy="67.8" r="0.40" fill="#3c3c3c" opacity="0.41"/>
<circle cx="255.5" cy="62.2" r="0.57" fill="#3c3c3c" opacity="0.34"/>
<circle cx="236.5" cy="79.4" r="0.41" fill="#3c3c3c" opacity="0.43"/>
<circle cx="250.1" cy="77.0" r="0.36" fill="#3c3c3c" opacity="0.36"/>
<circle cx="251.3" cy="74.5" r="0.36" fill="#3c3c3c" opacity="0.34"/>
<circle cx="245.4" cy="77.9" r="0.60" fill="#3c3c3c" opacity="0.40"/>
<circle cx="252.0" cy="66.0" r="0.41" fill="#3c3c3c" opacity="0.22"/>
<circle cx="245.8" cy="63.1" r="0.38" fill="#3c3c3c" opacity="0.21"/>
<circle cx="251.1" cy="75.5" r="0.42" fill="#3c3c3c" opacity="0.48"/>
<circle cx="247.1" cy="64.0" r="0.41" fill="#3c3c3c" opacity="0.25"/>
<circle cx="255.5" cy="67.1" r="0.53" fill="#3c3c3c" opacity="0.42"/>
<circle cx="249.9" cy="69.1" r="0.40" fill="#3c3c3c" opacity="0.32"/>
<circle cx="262.8" cy="78.1" r="0.40" fill="#3c3c3c" opacity="0.43"/>
<circle cx="245.8" cy="69.7" r="0.42" fill="#3c3c3c" opacity="0.27"/>
<circle cx="252.9" cy="71.1" r="0.48" fill="#3c3c3c" opacity="0.21"/>
<circle cx="245.3" cy="77.6" r="0.46" fill="#3c3c3c" opacity="0.24"/>
<circle cx="246.8" cy="64.2" r="0.52" fill="#3c3c3c" opacity="0.40"/>
<circle cx="251.8" cy="74.2" r="0.38" fill="#3c3c3c" opacity="0.41"/>
<circle cx="242.0" cy="74.3" r="0.56" fill="#3c3c3c" opacity="0.27"/>
<circle cx="246.6" cy="76.9" r="0.36" fill="#3c3c3c" opacity="0.21"/>
<circle cx="259.7" cy="71.7" r="0.47" fill="#3c3c3c" opacity="0.44"/>
<circle cx="255.2" cy="69.0" r="0.50" fill="#3c3c3c" opacity="0.48"/>
<circle cx="251.1" cy="81.7" r="0.50" fill="#3c3c3c" opacity="0.49"/>
<circle cx="252.5" cy="65.8" r="0.49" fill="#3c3c3c" opacity="0.23"/>
<circle cx="241.3" cy="73.4" r="0.32" fill="#3c3c3c" opacity="0.32"/>
<circle cx="244.1" cy="78.1" r="0.38" fill="#3c3c3c" opacity="0.25"/>
<circle cx="241.1" cy="75.1" r="0.35" fill="#3c3c3c" opacity="0.40"/>
<circle cx="248.7" cy="73.4" r="0.40" fill="#3c3c3c" opacity="0.33"/>
<circle cx="254.7" cy="78.4" r="0.51" fill="#3c3c3c" opacity="0.37"/>
<circle cx="248.0" cy="68.4" r="0.42" fill="#3c3c3c" opacity="0.31"/>
<circle cx="256.0" cy="73.1" r="0.32" fill="#3c3c3c" opacity="0.35"/>
<circle cx="240.8" cy="65.5" r="0.40" fill="#3c3c3c" opacity="0.28"/>
<circle cx="255.8" cy="71.1" r="0.57" fill="#3c3c3c" opacity="0.37"/>
<circle cx="247.6" cy="81.6" r="0.36" fill="#3c3c3c" opacity="0.34"/>
<circle cx="233.6" cy="57.1" r="0.41" fill="#3c3c3c" opacity="0.37"/>
<circle cx="261.4" cy="65.3" r="0.49" fill="#3c3c3c" opacity="0.39"/>
<circle cx="241.5" cy="74.3" r="0.38" fill="#3c3c3c" opacity="0.45"/>
<circle cx="254.2" cy="64.8" r="0.57" fill="#3c3c3c" opacity="0.21"/>
<circle cx="254.8" cy="77.0" r="0.39" fill="#3c3c3c" opacity="0.31"/>
<circle cx="253.0" cy="69.4" r="0.36" fill="#3c3c3c" opacity="0.27"/>
<circle cx="246.0" cy="64.8" r="0.30" fill="#3c3c3c" opacity="0.36"/>
<circle cx="243.8" cy="73.6" r="0.45" fill="#3c3c3c" opacity="0.40"/>
<circle cx="237.8" cy="66.7" r="0.47" fill="#3c3c3c" opacity="0.45"/>
<circle cx="255.6" cy="68.6" r="0.40" fill="#3c3c3c" opacity="0.47"/>
<circle cx="243.6" cy="81.4" r="0.51" fill="#3c3c3c" opacity="0.41"/>
<circle cx="263.0" cy="66.7" r="0.35" fill="#3c3c3c" opacity="0.39"/>
<circle cx="238.2" cy="70.6" r="0.41" fill="#3c3c3c" opacity="0.29"/>
<circle cx="248.4" cy="60.4" r="0.37" fill="#3c3c3c" opacity="0.27"/>
<circle cx="246.2" cy="74.3" r="0.45" fill="#3c3c3c" opacity="0.24"/>
<circle cx="251.3" cy="71.1" r="0.33" fill="#3c3c3c" opacity="0.41"/>
<circle cx="255.2" cy="75.6" r="0.53" fill="#3c3c3c" opacity="0.34"/>
<circle cx="256.9" cy="83.3" r="0.56" fill="#3c3c3c" opacity="0.22"/>
<circle cx="248.3" cy="79.3" r="0.54" fill="#3c3c3c" opacity="0.32"/>
<circle cx="247.2" cy="64.2" r="0.51" fill="#3c3c3c" opacity="0.30"/>
<circle cx="241.7" cy="81.4" r="0.55" fill="#3c3c3c" opacity="0.45"/>
<circle cx="240.9" cy="66.6" r="0.51" fill="#3c3c3c" opacity="0.39"/>
<circle cx="255.5" cy="57.8" r="0.34" fill="#3c3c3c" opacity="0.31"/>
<circle cx="245.7" cy="65.1" r="0.36" fill="#3c3c3c" opacity="0.20"/>
<circle cx="232.1" cy="60.5" r="0.59" fill="#3c3c3c" opacity="0.24"/>
<circle cx="245.3" cy="62.5" r="0.49" fill="#3c3c3c" opacity="0.32"/>
<circle cx="270.4" cy="60.5" r="0.31" fill="#3c3c3c" opacity="0.41"/>
<circle cx="250.2" cy="71.6" r="0.39" fill="#3c3c3c" opacity="0.42"/>
<circle cx="252.5" cy="69.8" r="0.40" fill="#3c3c3c" opacity="0.21"/>
<circle cx="239.6" cy="67.6" r="0.41" fill="#3c3c3c" opacity="0.29"/>
<circle cx="253.3" cy="55.8" r="0.39" fill="#3c3c3c" opacity="0.32"/>
<circle cx="238.4" cy="61.0" r="0.59" fill="#3c3c3c" opacity="0.32"/>
<circle cx="245.0" cy="60.8" r="0.54" fill="#3c3c3c" opacity="0.24"/>
<circle cx="250.2" cy="73.3" r="0.58" fill="#3c3c3c" opacity="0.28"/>
<circle cx="244.5" cy="70.3" r="0.40" fill="#3c3c3c" opacity="0.21"/>
<circle cx="244.4" cy="68.3" r="0.49" fill="#3c3c3c" opacity="0.28"/>
<circle cx="249.8" cy="78.9" r="0.41" fill="#3c3c3c" opacity="0.28"/>
<circle cx="251.3" cy="70.9" r="0.57" fill="#3c3c3c" opacity="0.29"/>
<circle cx="253.0" cy="72.3" r="0.45" fill="#3c3c3c" opacity="0.50"/>
<circle cx="253.3" cy="85.0" r="0.45" fill="#3c3c3c" opacity="0.32"/>
<circle cx="251.3" cy="62.7" r="0.32" fill="#3c3c3c" opacity="0.37"/>
<circle cx="242.3" cy="60.9" r="0.38" fill="#3c3c3c" opacity="0.48"/>
<circle cx="265.5" cy="51.2" r="0.43" fill="#3c3c3c" opacity="0.45"/>
<circle cx="247.7" cy="65.2" r="0.31" fill="#3c3c3c" opacity="0.25"/>
<circle cx="250.8" cy="72.1" r="0.41" fill="#3c3c3c" opacity="0.43"/>
<circle cx="245.0" cy="78.7" r="0.30" fill="#3c3c3c" opacity="0.26"/>
<circle cx="249.7" cy="69.7" r="0.46" fill="#3c3c3c" opacity="0.44"/>
<circle cx="251.9" cy="57.7" r="0.42" fill="#3c3c3c" opacity="0.44"/>
<circle cx="254.9" cy="58.2" r="0.60" fill="#3c3c3c" opacity="0.23"/>
<circle cx="256.2" cy="67.6" r="0.51" fill="#3c3c3c" opacity="0.28"/>
<circle cx="250.0" cy="69.1" r="0.47" fill="#3c3c3c" opacity="0.27"/>
<circle cx="242.6" cy="74.8" r="0.50" fill="#3c3c3c" opacity="0.44"/>
<circle cx="241.0" cy="78.4" r="0.41" fill="#3c3c3c" opacity="0.28"/>
<circle cx="254.3" cy="66.1" r="0.33" fill="#3c3c3c" opacity="0.30"/>
<circle cx="248.2" cy="64.6" r="0.52" fill="#3c3c3c" opacity="0.36"/>
<circle cx="246.4" cy="65.6" r="0.33" fill="#3c3c3c" opacity="0.24"/>
<circle cx="243.5" cy="76.7" r="0.30" fill="#3c3c3c" opacity="0.35"/>
<circle cx="242.7" cy="73.9" r="0.46" fill="#3c3c3c" opacity="0.49"/>
<circle cx="253.1" cy="85.4" r="0.40" fill="#3c3c3c" opacity="0.43"/>
<circle cx="266.9" cy="84.5" r="0.43" fill="#3c3c3c" opacity="0.49"/>
<circle cx="250.1" cy="77.8" r="0.51" fill="#3c3c3c" opacity="0.25"/>
<circle cx="246.7" cy="81.6" r="0.58" fill="#3c3c3c" opacity="0.30"/>
<circle cx="251.6" cy="76.7" r="0.60" fill="#3c3c3c" opacity="0.24"/>
<circle cx="243.3" cy="64.3" r="0.49" fill="#3c3c3c" opacity="0.26"/>
<circle cx="236.0" cy="59.1" r="0.56" fill="#3c3c3c" opacity="0.39"/>
<circle cx="238.1" cy="69.7" r="0.33" fill="#3c3c3c" opacity="0.45"/>
<circle cx="245.3" cy="62.0" r="0.50" fill="#3c3c3c" opacity="0.33"/>
<circle cx="244.2" cy="73.7" r="0.48" fill="#3c3c3c" opacity="0.37"/>
<circle cx="246.5" cy="69.8" r="0.49" fill="#3c3c3c" opacity="0.33"/>
<circle cx="239.5" cy="64.2" r="0.58" fill="#3c3c3c" opacity="0.25"/>
<circle cx="223.8" cy="74.8" r="0.52" fill="#3c3c3c" opacity="0.29"/>
<circle cx="246.5" cy="46.6" r="0.42" fill="#3c3c3c" opacity="0.46"/>
<circle cx="265.5" cy="86.9" r="0.45" fill="#3c3c3c" opacity="0.27"/>
<circle cx="254.7" cy="60.5" r="0.58" fill="#3c3c3c" opacity="0.45"/>
<circle cx="251.3" cy="61.1" r="0.60" fill="#3c3c3c" opacity="0.22"/>
<circle cx="257.1" cy="61.0" r="0.38" fill="#3c3c3c" opacity="0.44"/>
<circle cx="239.0" cy="72.8" r="0.56" fill="#3c3c3c" opacity="0.26"/>
<circle cx="246.4" cy="81.0" r="0.32" fill="#3c3c3c" opacity="0.37"/>
<circle cx="250.6" cy="61.2" r="0.37" fill="#3c3c3c" opacity="0.44"/>
<circle cx="256.9" cy="59.4" r="0.46" fill="#3c3c3c" opacity="0.47"/>
<circle cx="249.8" cy="65.7" r="0.41" fill="#3c3c3c" opacity="0.23"/>
<circle cx="255.7" cy="71.6" r="0.56" fill="#3c3c3c" opacity="0.45"/>
<circle cx="252.2" cy="73.3" r="0.42" fill="#3c3c3c" opacity="0.45"/>
<circle cx="235.7" cy="58.7" r="0.32" fill="#3c3c3c" opacity="0.50"/>
<circle cx="251.5" cy="80.6" r="0.56" fill="#3c3c3c" opacity="0.42"/>
<circle cx="252.4" cy="81.0" r="0.43" fill="#3c3c3c" opacity="0.20"/>
<circle cx="244.8" cy="75.7" r="0.49" fill="#3c3c3c" opacity="0.28"/>
<circle cx="238.7" cy="62.7" r="0.35" fill="#3c3c3c" opacity="0.24"/>
<circle cx="245.4" cy="61.8" r="0.34" fill="#3c3c3c" opacity="0.23"/>
<circle cx="258.7" cy="66.1" r="0.41" fill="#3c3c3c" opacity="0.26"/>
<circle cx="260.8" cy="69.6" r="0.52" fill="#3c3c3c" opacity="0.31"/>
<circle cx="245.5" cy="77.4" r="0.34" fill="#3c3c3c" opacity="0.39"/>
<circle cx="235.3" cy="76.6" r="0.42" fill="#3c3c3c" opacity="0.34"/>
<circle cx="229.4" cy="69.2" r="0.40" fill="#3c3c3c" opacity="0.41"/>
<circle cx="249.5" cy="80.2" r="0.39" fill="#3c3c3c" opacity="0.46"/>
<circle cx="244.9" cy="84.9" r="0.50" fill="#3c3c3c" opacity="0.34"/>
<circle cx="255.7" cy="66.9" r="0.52" fill="#3c3c3c" opacity="0.38"/>
<circle cx="245.7" cy="70.9" r="0.43" fill="#3c3c3c" opacity="0.28"/>
<circle cx="230.0" cy="77.0" r="0.39" fill="#3c3c3c" opacity="0.41"/>
<circle cx="245.7" cy="64.8" r="0.42" fill="#3c3c3c" opacity="0.24"/>
<circle cx="253.3" cy="66.4" r="0.43" fill="#3c3c3c" opacity="0.30"/>
<circle cx="255.2" cy="56.3" r="0.48" fill="#3c3c3c" opacity="0.36"/>
<circle cx="262.3" cy="79.7" r="0.33" fill="#3c3c3c" opacity="0.31"/>
<circle cx="239.5" cy="78.9" r="0.50" fill="#3c3c3c" opacity="0.30"/>
<circle cx="264.2" cy="58.6" r="0.31" fill="#3c3c3c" opacity="0.39"/>
<circle cx="241.1" cy="71.4" r="0.44" fill="#3c3c3c" opacity="0.29"/>
<circle cx="243.3" cy="60.6" r="0.59" fill="#3c3c3c" opacity="0.49"/>
<circle cx="256.5" cy="69.6" r="0.55" fill="#3c3c3c" opacity="0.39"/>
<circle cx="240.1" cy="44.2" r="0.32" fill="#3c3c3c" opacity="0.34"/>
<circle cx="239.0" cy="76.6" r="0.37" fill="#3c3c3c" opacity="0.50"/>
<circle cx="250.4" cy="77.3" r="0.34" fill="#3c3c3c" opacity="0.32"/>
<circle cx="248.3" cy="66.7" r="0.35" fill="#3c3c3c" opacity="0.39"/>
<circle cx="239.1" cy="61.0" r="0.38" fill="#3c3c3c" opacity="0.44"/>
<circle cx="246.8" cy="56.6" r="0.34" fill="#3c3c3c" opacity="0.34"/>
<circle cx="264.3" cy="71.5" r="0.58" fill="#3c3c3c" opacity="0.47"/>
<circle cx="255.9" cy="71.1" r="0.46" fill="#3c3c3c" opacity="0.36"/>
<circle cx="259.3" cy="78.9" r="0.39" fill="#3c3c3c" opacity="0.35"/>
<circle cx="255.8" cy="77.1" r="0.34" fill="#3c3c3c" opacity="0.23"/>
<circle cx="241.8" cy="69.5" r="0.53" fill="#3c3c3c" opacity="0.27"/>
<circle cx="246.2" cy="71.3" r="0.37" fill="#3c3c3c" opacity="0.34"/>
<circle cx="240.2" cy="66.9" r="0.56" fill="#3c3c3c" opacity="0.23"/>
<circle cx="251.2" cy="66.3" r="0.59" fill="#3c3c3c" opacity="0.36"/>
<circle cx="239.3" cy="76.0" r="0.56" fill="#3c3c3c" opacity="0.49"/>
<circle cx="247.5" cy="70.6" r="0.35" fill="#3c3c3c" opacity="0.45"/>
<circle cx="247.3" cy="57.7" r="0.35" fill="#3c3c3c" opacity="0.36"/>
<circle cx="252.3" cy="70.7" r="0.39" fill="#3c3c3c" opacity="0.49"/>
<circle cx="238.8" cy="58.2" r="0.31" fill="#3c3c3c" opacity="0.32"/>
<circle cx="254.0" cy="72.9" r="0.33" fill="#3c3c3c" opacity="0.48"/>
<circle cx="244.1" cy="78.0" r="0.50" fill="#3c3c3c" opacity="0.47"/>
<circle cx="258.3" cy="66.7" r="0.45" fill="#3c3c3c" opacity="0.47"/>
<circle cx="243.2" cy="74.1" r="0.52" fill="#3c3c3c" opacity="0.28"/>
<circle cx="242.8" cy="76.1" r="0.44" fill="#3c3c3c" opacity="0.31"/>
<circle cx="240.6" cy="73.6" r="0.31" fill="#3c3c3c" opacity="0.45"/>
<circle cx="257.6" cy="73.6" r="0.46" fill="#3c3c3c" opacity="0.32"/>
<circle cx="249.1" cy="73.5" r="0.41" fill="#3c3c3c" opacity="0.29"/>
<circle cx="242.7" cy="70.6" r="0.52" fill="#3c3c3c" opacity="0.35"/>
<circle cx="256.7" cy="70.4" r="0.59" fill="#3c3c3c" opacity="0.20"/>
<circle cx="231.5" cy="59.0" r="0.41" fill="#3c3c3c" opacity="0.38"/>
<circle cx="243.9" cy="74.8" r="0.48" fill="#3c3c3c" opacity="0.38"/>
<circle cx="244.8" cy="78.4" r="0.45" fill="#3c3c3c" opacity="0.43"/>
<circle cx="251.8" cy="71.1" r="0.38" fill="#3c3c3c" opacity="0.28"/>
<circle cx="250.9" cy="62.1" r="0.56" fill="#3c3c3c" opacity="0.32"/>
<circle cx="245.8" cy="81.5" r="0.33" fill="#3c3c3c" opacity="0.50"/>
<circle cx="252.0" cy="63.9" r="0.40" fill="#3c3c3c" opacity="0.45"/>
<circle cx="251.2" cy="59.1" r="0.32" fill="#3c3c3c" opacity="0.43"/>
<circle cx="259.2" cy="73.2" r="0.47" fill="#3c3c3c" opacity="0.48"/>
<circle cx="247.4" cy="68.7" r="0.58" fill="#3c3c3c" opacity="0.43"/>
<circle cx="247.8" cy="69.6" r="0.52" fill="#3c3c3c" opacity="0.33"/>
<circle cx="238.7" cy="49.8" r="0.58" fill="#3c3c3c" opacity="0.22"/>
<circle cx="250.2" cy="61.8" r="0.53" fill="#3c3c3c" opacity="0.31"/>
<circle cx="240.4" cy="72.7" r="0.34" fill="#3c3c3c" opacity="0.30"/>
<circle cx="248.2" cy="67.0" r="0.33" fill="#3c3c3c" opacity="0.45"/>
<circle cx="243.4" cy="61.5" r="0.33" fill="#3c3c3c" opacity="0.24"/>
<circle cx="241.2" cy="88.0" r="0.47" fill="#3c3c3c" opacity="0.48"/>
<circle cx="250.5" cy="77.8" r="0.46" fill="#3c3c3c" opacity="0.45"/>
<circle cx="260.1" cy="81.1" r="0.44" fill="#3c3c3c" opacity="0.21"/>
<circle cx="241.4" cy="73.1" r="0.50" fill="#3c3c3c" opacity="0.48"/>
<circle cx="236.3" cy="70.5" r="0.42" fill="#3c3c3c" opacity="0.43"/>
<circle cx="258.9" cy="77.9" r="0.35" fill="#3c3c3c" opacity="0.38"/>
<circle cx="250.7" cy="76.9" r="0.35" fill="#3c3c3c" opacity="0.30"/>
<circle cx="240.4" cy="64.9" r="0.42" fill="#3c3c3c" opacity="0.37"/>
<circle cx="252.6" cy="63.9" r="0.48" fill="#3c3c3c" opacity="0.34"/>
<circle cx="255.6" cy="69.2" r="0.51" fill="#3c3c3c" opacity="0.27"/>
<circle cx="247.6" cy="82.6" r="0.47" fill="#3c3c3c" opacity="0.28"/>
<circle cx="262.2" cy="75.7" r="0.41" fill="#3c3c3c" opacity="0.41"/>
<circle cx="238.4" cy="74.4" r="0.47" fill="#3c3c3c" opacity="0.49"/>
<circle cx="255.9" cy="65.4" r="0.45" fill="#3c3c3c" opacity="0.27"/>
<circle cx="248.6" cy="66.4" r="0.39" fill="#3c3c3c" opacity="0.45"/>
<circle cx="260.6" cy="72.6" r="0.47" fill="#3c3c3c" opacity="0.37"/>
<circle cx="246.2" cy="73.9" r="0.59" fill="#3c3c3c" opacity="0.43"/>
<circle cx="249.7" cy="66.7" r="0.54" fill="#3c3c3c" opacity="0.27"/>
<circle cx="251.6" cy="79.2" r="0.48" fill="#3c3c3c" opacity="0.24"/>
<circle cx="249.5" cy="59.7" r="0.57" fill="#3c3c3c" opacity="0.48"/>
<circle cx="245.7" cy="63.1" r="0.59" fill="#3c3c3c" opacity="0.42"/>
<circle cx="244.5" cy="84.9" r="0.52" fill="#3c3c3c" opacity="0.28"/>
<circle cx="248.5" cy="71.6" r="0.46" fill="#3c3c3c" opacity="0.28"/>
<circle cx="246.9" cy="75.7" r="0.34" fill="#3c3c3c" opacity="0.35"/>
</g>
<g filter="url(#soft)">
<ellipse cx="324.0" cy="72.0" rx="15.4" ry="15.4" fill="url(#col)" opacity="0.8"/>
<circle cx="323.2" cy="77.7" r="0.38" fill="#3c3c3c" opacity="0.35"/>
<circle cx="326.9" cy="69.1" r="0.56" fill="#3c3c3c" opacity="0.46"/>
<circle cx="317.2" cy="66.4" r="0.52" fill="#3c3c3c" opacity="0.36"/>
<circle cx="315.6" cy="58.7" r="0.53" fill="#3c3c3c" opacity="0.28"/>
<circle cx="339.5" cy="77.5" r="0.41" fill="#3c3c3c" opacity="0.44"/>
<circle cx="324.8" cy="79.6" r="0.41" fill="#3c3c3c" opacity="0.42"/>
<circle cx="331.8" cy="69.1" r="0.47" fill="#3c3c3c" opacity="0.30"/>
<circle cx="325.9" cy="89.0" r="0.33" fill="#3c3c3c" opacity="0.48"/>
<circle cx="322.5" cy="69.7" r="0.57" fill="#3c3c3c" opacity="0.23"/>
<circle cx="320.8" cy="70.6" r="0.60" fill="#3c3c3c" opacity="0.29"/>
<circle cx="325.7" cy="70.2" r="0.50" fill="#3c3c3c" opacity="0.22"/>
<circle cx="332.9" cy="73.7" r="0.59" fill="#3c3c3c" opacity="0.41"/>
<circle cx="331.5" cy="62.3" r="0.46" fill="#3c3c3c" opacity="0.22"/>
<circle cx="319.6" cy="71.2" r="0.46" fill="#3c3c3c" opacity="0.31"/>
<circle cx="319.4" cy="72.0" r="0.51" fill="#3c3c3c" opacity="0.33"/>
<circle cx="321.2" cy="72.3" r="0.45" fill="#3c3c3c" opacity="0.37"/>
<circle cx="332.9" cy="70.5" r="0.34" fill="#3c3c3c" opacity="0.29"/>
<circle cx="318.4" cy="81.4" r="0.58" fill="#3c3c3c" opacity="0.49"/>
<circle cx="339.2" cy="67.1" r="0.56" fill="#3c3c3c" opacity="0.48"/>
<circle cx="332.1" cy="73.0" r="0.48" fill="#3c3c3c" opacity="0.41"/>
<circle cx="316.7" cy="65.7" r="0.58" fill="#3c3c3c" opacity="0.23"/>
<circle cx="306.4" cy="69.9" r="0.31" fill="#3c3c3c" opacity="0.23"/>
<circle cx="336.0" cy="59.1" r="0.31" fill="#3c3c3c" opacity="0.21"/>
<circle cx="329.1" cy="62.6" r="0.46" fill="#3c3c3c" opacity="0.37"/>
<circle cx="324.6" cy="59.3" r="0.30" fill="#3c3c3c" opacity="0.22"/>
<circle cx="329.2" cy="53.7" r="0.55" fill="#3c3c3c" opacity="0.32"/>
<circle cx="320.7" cy="77.5" r="0.30" fill="#3c3c3c" opacity="0.43"/>
<circle cx="323.3" cy="81.3" r="0.46" fill="#3c3c3c" opacity="0.30"/>
<circle cx="320.5" cy="65.1" r="0.37" fill="#3c3c3c" opacity="0.46"/>
<circle cx="325.8" cy="75.6" r="0.38" fill="#3c3c3c" opacity="0.34"/>
<circle cx="325.3" cy="65.8" r="0.37" fill="#3c3c3c" opacity="0.40"/>
<circle cx="323.5" cy="80.5" r="0.38" fill="#3c3c3c" opacity="0.46"/>
<circle cx="326.0" cy="76.7" r="0.39" fill="#3c3c3c" opacity="0.30"/>
<circle cx="322.5" cy="61.6" r="0.54" fill="#3c3c3c" opacity="0.36"/>
<circle cx="334.5" cy="77.6" r="0.37" fill="#3c3c3c" opacity="0.27"/>
<circle cx="305.8" cy="82.9" r="0.41" fill="#3c3c3c" opacity="0.31"/>
<circle cx="342.1" cy="60.7" r="0.42" fill="#3c3c3c" opacity="0.24"/>
<circle cx="327.0" cy="60.2" r="0.40" fill="#3c3c3c" opacity="0.44"/>
<circle cx="319.8" cy="76.0" r="0.48" fill="#3c3c3c" opacity="0.42"/>
<circle cx="311.2" cy="74.0" r="0.30" fill="#3c3c3c" opacity="0.35"/>
<circle cx="322.1" cy="73.8" r="0.57" fill="#3c3c3c" opacity="0.24"/>
<circle cx="328.0" cy="85.8" r="0.59" fill="#3c3c3c" opacity="0.48"/>
<circle cx="315.2" cy="85.6" r="0.34" fill="#3c3c3c" opacity="0.41"/>
<circle cx="328.3" cy="70.5" r="0.34" fill="#3c3c3c" opacity="0.40"/>
<circle cx="332.3" cy="64.4" r="0.58" fill="#3c3c3c" opacity="0.34"/>
<circle cx="321.5" cy="74.5" r="0.38" fill="#3c3c3c" opacity="0.48"/>
<circle cx="328.0" cy="73.9" r="0.40" fill="#3c3c3c" opacity="0.21"/>
<circle cx="322.4" cy="76.2" r="0.34" fill="#3c3c3c" opacity="0.36"/>
<circle cx="315.2" cy="69.7" r="0.53" fill="#3c3c3c" opacity="0.36"/>
<circle cx="326.7" cy="71.1" r="0.37" fill="#3c3c3c" opacity="0.22"/>
<circle cx="319.7" cy="83.0" r="0.58" fill="#3c3c3c" opacity="0.35"/>
<circle cx="327.3" cy="77.3" r="0.47" fill="#3c3c3c" opacity="0.29"/>
<circle cx="329.0" cy="53.9" r="0.44" fill="#3c3c3c" opacity="0.38"/>
<circle cx="328.4" cy="65.6" r="0.36" fill="#3c3c3c" opacity="0.48"/>
<circle cx="325.5" cy="71.8" r="0.53" fill="#3c3c3c" opacity="0.32"/>
<circle cx="328.0" cy="73.3" r="0.35" fill="#3c3c3c" opacity="0.42"/>
<circle cx="324.3" cy="73.4" r="0.37" fill="#3c3c3c" opacity="0.44"/>
<circle cx="313.8" cy="72.1" r="0.44" fill="#3c3c3c" opacity="0.25"/>
<circle cx="329.9" cy="72.6" r="0.31" fill="#3c3c3c" opacity="0.28"/>
<circle cx="319.1" cy="67.4" r="0.44" fill="#3c3c3c" opacity="0.39"/>
<circle cx="321.3" cy="78.0" r="0.57" fill="#3c3c3c" opacity="0.37"/>
<circle cx="316.4" cy="76.3" r="0.44" fill="#3c3c3c" opacity="0.30"/>
<circle cx="328.4" cy="69.4" r="0.58" fill="#3c3c3c" opacity="0.46"/>
<circle cx="327.1" cy="69.2" r="0.45" fill="#3c3c3c" opacity="0.50"/>
<circle cx="323.0" cy="76.2" r="0.52" fill="#3c3c3c" opacity="0.27"/>
<circle cx="320.5" cy="69.9" r="0.58" fill="#3c3c3c" opacity="0.29"/>
<circle cx="332.8" cy="78.1" r="0.40" fill="#3c3c3c" opacity="0.37"/>
<circle cx="308.2" cy="72.3" r="0.45" fill="#3c3c3c" opacity="0.31"/>
<circle cx="332.2" cy="72.1" r="0.38" fill="#3c3c3c" opacity="0.37"/>
<circle cx="318.7" cy="66.3" r="0.33" fill="#3c3c3c" opacity="0.35"/>
<circle cx="314.0" cy="73.1" r="0.59" fill="#3c3c3c" opacity="0.28"/>
<circle cx="321.2" cy="73.0" r="0.54" fill="#3c3c3c" opacity="0.27"/>
<circle cx="330.0" cy="61.0" r="0.38" fill="#3c3c3c" opacity="0.47"/>
<circle cx="316.6" cy="71.8" r="0.47" fill="#3c3c3c" opacity="0.48"/>
<circle cx="316.0" cy="72.5" r="0.39" fill="#3c3c3c" opacity="0.45"/>
<circle cx="317.6" cy="71.9" r="0.36" fill="#3c3c3c" opacity="0.26"/>
<circle cx="330.4" cy="61.1" r="0.59" fill="#3c3c3c" opacity="0.48"/>
<circle cx="319.0" cy="60.5" r="0.51" fill="#3c3c3c" opacity="0.44"/>
<circle cx="325.4" cy="67.9" r="0.54" fill="#3c3c3c" opacity="0.29"/>
<circle cx="324.6" cy="87.7" r="0.31" fill="#3c3c3c" opacity="0.35"/>
<circle cx="317.1" cy="82.3" r="0.48" fill="#3c3c3c" opacity="0.47"/>
<circle cx="333.2" cy="67.9" r="0.32" fill="#3c3c3c" opacity="0.40"/>
<circle cx="339.4" cy="84.6" r="0.56" fill="#3c3c3c" opacity="0.29"/>
<circle cx="328.2" cy="81.9" r="0.53" fill="#3c3c3c" opacity="0.50"/>
<circle cx="321.4" cy="69.5" r="0.52" fill="#3c3c3c" opacity="0.22"/>
<circle cx="332.1" cy="63.2" r="0.54" fill="#3c3c3c" opacity="0.46"/>
<circle cx="308.8" cy="64.9" r="0.49" fill="#3c3c3c" opacity="0.35"/>
<circle cx="319.1" cy="76.3" r="0.31" fill="#3c3c3c" opacity="0.25"/>
<circle cx="325.4" cy="67.2" r="0.50" fill="#3c3c3c" opacity="0.43"/>
<circle cx="321.1" cy="64.1" r="0.39" fill="#3c3c3c" opacity="0.28"/>
<circle cx="327.9" cy="81.3" r="0.51" fill="#3c3c3c" opacity="0.48"/>
<circle cx="316.2" cy="86.0" r="0.57" fill="#3c3c3c" opacity="0.29"/>
<circle cx="333.3" cy="69.1" r="0.59" fill="#3c3c3c" opacity="0.43"/>
<circle cx="321.2" cy="76.9" r="0.46" fill="#3c3c3c" opacity="0.35"/>
<circle cx="337.6" cy="75.1" r="0.46" fill="#3c3c3c" opacity="0.34"/>
<circle cx="323.8" cy="66.7" r="0.36" fill="#3c3c3c" opacity="0.37"/>
<circle cx="324.3" cy="78.2" r="0.32" fill="#3c3c3c" opacity="0.22"/>
<circle cx="318.7" cy="78.8" r="0.58" fill="#3c3c3c" opacity="0.39"/>
<circle cx="317.9" cy="75.7" r="0.37" fill="#3c3c3c" opacity="0.34"/>
<circle cx="327.5" cy="71.1" r="0.43" fill="#3c3c3c" opacity="0.41"/>
<circle cx="324.7" cy="63.1" r="0.49" fill="#3c3c3c" opacity="0.48"/>
<circle cx="328.4" cy="68.9" r="0.46" fill="#3c3c3c" opacity="0.50"/>
<circle cx="319.5" cy="71.2" r="0.53" fill="#3c3c3c" opacity="0.22"/>
<circle cx="329.2" cy="79.2" r="0.38" fill="#3c3c3c" opacity="0.42"/>
<circle cx="323.1" cy="65.9" r="0.53" fill="#3c3c3c" opacity="0.39"/>
<circle cx="321.9" cy="64.6" r="0.43" fill="#3c3c3c" opacity="0.23"/>
<circle cx="306.8" cy="74.7" r="0.57" fill="#3c3c3c" opacity="0.22"/>
<circle cx="329.0" cy="74.4" r="0.51" fill="#3c3c3c" opacity="0.33"/>
<circle cx="329.1" cy="77.3" r="0.47" fill="#3c3c3c" opacity="0.42"/>
<circle cx="315.7" cy="77.8" r="0.50" fill="#3c3c3c" opacity="0.38"/>
<circle cx="334.6" cy="75.2" r="0.34" fill="#3c3c3c" opacity="0.22"/>
<circle cx="322.7" cy="72.2" r="0.32" fill="#3c3c3c" opacity="0.32"/>
<circle cx="320.8" cy="72.6" r="0.59" fill="#3c3c3c" opacity="0.46"/>
<circle cx="314.7" cy="72.8" r="0.39" fill="#3c3c3c" opacity="0.50"/>
<circle cx="328.3" cy="76.1" r="0.37" fill="#3c3c3c" opacity="0.46"/>
<circle cx="316.8" cy="71.6" r="0.42" fill="#3c3c3c" opacity="0.47"/>
<circle cx="323.4" cy="84.4" r="0.51" fill="#3c3c3c" opacity="0.33"/>
<circle cx="319.0" cy="77.6" r="0.44" fill="#3c3c3c" opacity="0.29"/>
<circle cx="318.9" cy="66.9" r="0.39" fill="#3c3c3c" opacity="0.43"/>
<circle cx="316.4" cy="74.2" r="0.56" fill="#3c3c3c" opacity="0.34"/>
<circle cx="313.4" cy="82.5" r="0.59" fill="#3c3c3c" opacity="0.44"/>
<circle cx="315.5" cy="78.1" r="0.52" fill="#3c3c3c" opacity="0.29"/>
<circle cx="321.2" cy="55.1" r="0.50" fill="#3c3c3c" opacity="0.40"/>
<circle cx="314.6" cy="76.0" r="0.37" fill="#3c3c3c" opacity="0.43"/>
<circle cx="305.0" cy="67.2" r="0.40" fill="#3c3c3c" opacity="0.41"/>
<circle cx="331.2" cy="72.8" r="0.53" fill="#3c3c3c" opacity="0.28"/>
<circle cx="320.3" cy="68.8" r="0.42" fill="#3c3c3c" opacity="0.50"/>
<circle cx="329.1" cy="86.6" r="0.32" fill="#3c3c3c" opacity="0.37"/>
<circle cx="329.8" cy="60.0" r="0.42" fill="#3c3c3c" opacity="0.38"/>
<circle cx="321.2" cy="60.5" r="0.52" fill="#3c3c3c" opacity="0.37"/>
<circle cx="323.9" cy="82.9" r="0.47" fill="#3c3c3c" opacity="0.36"/>
<circle cx="327.8" cy="71.7" r="0.53" fill="#3c3c3c" opacity="0.30"/>
<circle cx="321.5" cy="55.0" r="0.38" fill="#3c3c3c" opacity="0.37"/>
<circle cx="315.9" cy="70.6" r="0.35" fill="#3c3c3c" opacity="0.39"/>
<circle cx="332.1" cy="65.6" r="0.39" fill="#3c3c3c" opacity="0.44"/>
<circle cx="320.6" cy="73.9" r="0.48" fill="#3c3c3c" opacity="0.34"/>
<circle cx="302.9" cy="68.0" r="0.47" fill="#3c3c3c" opacity="0.49"/>
<circle cx="316.9" cy="81.4" r="0.32" fill="#3c3c3c" opacity="0.29"/>
<circle cx="320.2" cy="62.0" r="0.55" fill="#3c3c3c" opacity="0.31"/>
<circle cx="323.0" cy="78.5" r="0.46" fill="#3c3c3c" opacity="0.21"/>
<circle cx="316.8" cy="79.3" r="0.34" fill="#3c3c3c" opacity="0.29"/>
<circle cx="335.4" cy="60.3" r="0.37" fill="#3c3c3c" opacity="0.25"/>
<circle cx="326.2" cy="74.0" r="0.54" fill="#3c3c3c" opacity="0.42"/>
<circle cx="323.3" cy="80.1" r="0.51" fill="#3c3c3c" opacity="0.21"/>
<circle cx="329.8" cy="59.4" r="0.36" fill="#3c3c3c" opacity="0.41"/>
<circle cx="322.0" cy="66.0" r="0.56" fill="#3c3c3c" opacity="0.27"/>
<circle cx="318.0" cy="73.0" r="0.43" fill="#3c3c3c" opacity="0.44"/>
<circle cx="315.3" cy="67.9" r="0.60" fill="#3c3c3c" opacity="0.27"/>
<circle cx="325.7" cy="81.6" r="0.35" fill="#3c3c3c" opacity="0.49"/>
<circle cx="319.9" cy="78.3" r="0.43" fill="#3c3c3c" opacity="0.45"/>
<circle cx="333.1" cy="66.7" r="0.35" fill="#3c3c3c" opacity="0.31"/>
<circle cx="322.7" cy="67.3" r="0.56" fill="#3c3c3c" opacity="0.46"/>
<circle cx="325.0" cy="78.6" r="0.37" fill="#3c3c3c" opacity="0.42"/>
<circle cx="334.3" cy="75.1" r="0.32" fill="#3c3c3c" opacity="0.45"/>
<circle cx="315.1" cy="69.5" r="0.33" fill="#3c3c3c" opacity="0.21"/>
<circle cx="311.8" cy="88.1" r="0.48" fill="#3c3c3c" opacity="0.46"/>
<circle cx="327.0" cy="73.2" r="0.31" fill="#3c3c3c" opacity="0.41"/>
<circle cx="326.5" cy="77.0" r="0.50" fill="#3c3c3c" opacity="0.41"/>
<circle cx="320.5" cy="79.1" r="0.39" fill="#3c3c3c" opacity="0.37"/>
<circle cx="319.9" cy="77.2" r="0.37" fill="#3c3c3c" opacity="0.29"/>
<circle cx="323.9" cy="73.3" r="0.39" fill="#3c3c3c" opacity="0.38"/>
<circle cx="323.6" cy="75.4" r="0.55" fill="#3c3c3c" opacity="0.34"/>
<circle cx="318.0" cy="71.6" r="0.57" fill="#3c3c3c" opacity="0.43"/>
<circle cx="316.6" cy="64.8" r="0.51" fill="#3c3c3c" opacity="0.35"/>
<circle cx="318.1" cy="75.6" r="0.45" fill="#3c3c3c" opacity="0.34"/>
<circle cx="315.5" cy="70.4" r="0.54" fill="#3c3c3c" opacity="0.47"/>
<circle cx="324.2" cy="73.5" r="0.39" fill="#3c3c3c" opacity="0.21"/>
<circle cx="326.8" cy="62.7" r="0.39" fill="#3c3c3c" opacity="0.26"/>
<circle cx="333.0" cy="62.2" r="0.51" fill="#3c3c3c" opacity="0.41"/>
<circle cx="323.7" cy="64.3" r="0.42" fill="#3c3c3c" opacity="0.37"/>
<circle cx="339.8" cy="57.3" r="0.58" fill="#3c3c3c" opacity="0.45"/>
<circle cx="328.7" cy="74.4" r="0.59" fill="#3c3c3c" opacity="0.36"/>
<circle cx="318.0" cy="71.4" r="0.56" fill="#3c3c3c" opacity="0.36"/>
<circle cx="326.8" cy="71.8" r="0.60" fill="#3c3c3c" opacity="0.20"/>
<circle cx="328.1" cy="77.6" r="0.49" fill="#3c3c3c" opacity="0.23"/>
<circle cx="308.7" cy="65.7" r="0.43" fill="#3c3c3c" opacity="0.43"/>
<circle cx="316.2" cy="67.0" r="0.35" fill="#3c3c3c" opacity="0.34"/>
<circle cx="332.5" cy="65.9" r="0.37" fill="#3c3c3c" opacity="0.33"/>
<circle cx="317.9" cy="70.3" r="0.47" fill="#3c3c3c" opacity="0.39"/>
<circle cx="328.9" cy="72.6" r="0.50" fill="#3c3c3c" opacity="0.26"/>
<circle cx="334.6" cy="77.2" r="0.40" fill="#3c3c3c" opacity="0.49"/>
<circle cx="321.0" cy="70.8" r="0.49" fill="#3c3c3c" opacity="0.28"/>
<circle cx="328.4" cy="61.7" r="0.53" fill="#3c3c3c" opacity="0.22"/>
<circle cx="336.2" cy="74.7" r="0.34" fill="#3c3c3c" opacity="0.26"/>
<circle cx="328.1" cy="72.8" r="0.44" fill="#3c3c3c" opacity="0.49"/>
<circle cx="321.7" cy="76.9" r="0.55" fill="#3c3c3c" opacity="0.26"/>
<circle cx="317.6" cy="64.7" r="0.58" fill="#3c3c3c" opacity="0.21"/>
<circle cx="317.7" cy="69.3" r="0.55" fill="#3c3c3c" opacity="0.28"/>
<circle cx="323.0" cy="67.6" r="0.45" fill="#3c3c3c" opacity="0.49"/>
<circle cx="324.4" cy="77.6" r="0.58" fill="#3c3c3c" opacity="0.40"/>
<circle cx="328.1" cy="73.8" r="0.37" fill="#3c3c3c" opacity="0.29"/>
<circle cx="330.1" cy="63.0" r="0.59" fill="#3c3c3c" opacity="0.40"/>
<circle cx="319.2" cy="67.0" r="0.52" fill="#3c3c3c" opacity="0.35"/>
<circle cx="331.6" cy="74.9" r="0.42" fill="#3c3c3c" opacity="0.36"/>
<circle cx="325.6" cy="72.5" r="0.59" fill="#3c3c3c" opacity="0.31"/>
<circle cx="322.1" cy="75.5" r="0.48" fill="#3c3c3c" opacity="0.47"/>
<circle cx="327.5" cy="79.5" r="0.45" fill="#3c3c3c" opacity="0.43"/>
<circle cx="319.3" cy="69.9" r="0.36" fill="#3c3c3c" opacity="0.42"/>
<circle cx="336.3" cy="78.6" r="0.31" fill="#3c3c3c" opacity="0.26"/>
<circle cx="310.8" cy="74.7" r="0.49" fill="#3c3c3c" opacity="0.42"/>
<circle cx="324.8" cy="60.8" r="0.32" fill="#3c3c3c" opacity="0.45"/>
<circle cx="326.5" cy="75.3" r="0.31" fill="#3c3c3c" opacity="0.21"/>
<circle cx="328.9" cy="67.2" r="0.33" fill="#3c3c3c" opacity="0.21"/>
<circle cx="329.4" cy="64.2" r="0.57" fill="#3c3c3c" opacity="0.21"/>
<circle cx="328.4" cy="75.7" r="0.36" fill="#3c3c3c" opacity="0.23"/>
<circle cx="327.1" cy="81.5" r="0.35" fill="#3c3c3c" opacity="0.25"/>
<circle cx="317.4" cy="70.5" r="0.34" fill="#3c3c3c" opacity="0.37"/>
<circle cx="317.1" cy="71.7" r="0.44" fill="#3c3c3c" opacity="0.21"/>
<circle cx="320.6" cy="69.0" r="0.40" fill="#3c3c3c" opacity="0.20"/>
<circle cx="331.1" cy="66.0" r="0.42" fill="#3c3c3c" opacity="0.36"/>
<circle cx="327.5" cy="70.6" r="0.42" fill="#3c3c3c" opacity="0.41"/>
<circle cx="316.4" cy="79.9" r="0.57" fill="#3c3c3c" opacity="0.21"/>
<circle cx="322.7" cy="77.7" r="0.53" fill="#3c3c3c" opacity="0.44"/>
<circle cx="319.0" cy="56.9" r="0.36" fill="#3c3c3c" opacity="0.32"/>
<circle cx="331.2" cy="62.5" r="0.33" fill="#3c3c3c" opacity="0.49"/>
<circle cx="323.2" cy="58.0" r="0.41" fill="#3c3c3c" opacity="0.38"/>
<circle cx="338.5" cy="68.2" r="0.47" fill="#3c3c3c" opacity="0.47"/>
<circle cx="337.4" cy="71.9" r="0.50" fill="#3c3c3c" opacity="0.49"/>
<circle cx="328.4" cy="77.6" r="0.47" fill="#3c3c3c" opacity="0.24"/>
<circle cx="324.5" cy="69.5" r="0.49" fill="#3c3c3c" opacity="0.28"/>
<circle cx="319.8" cy="80.6" r="0.36" fill="#3c3c3c" opacity="0.33"/>
<circle cx="336.9" cy="55.9" r="0.38" fill="#3c3c3c" opacity="0.31"/>
<circle cx="322.4" cy="67.7" r="0.55" fill="#3c3c3c" opacity="0.26"/>
<circle cx="318.0" cy="69.8" r="0.30" fill="#3c3c3c" opacity="0.20"/>
<circle cx="330.2" cy="72.1" r="0.38" fill="#3c3c3c" opacity="0.50"/>
<circle cx="322.3" cy="70.0" r="0.51" fill="#3c3c3c" opacity="0.27"/>
<circle cx="312.9" cy="73.3" r="0.56" fill="#3c3c3c" opacity="0.48"/>
<circle cx="318.6" cy="74.9" r="0.42" fill="#3c3c3c" opacity="0.29"/>
<circle cx="323.6" cy="64.2" r="0.51" fill="#3c3c3c" opacity="0.25"/>
<circle cx="327.7" cy="54.1" r="0.36" fill="#3c3c3c" opacity="0.38"/>
<circle cx="325.0" cy="73.6" r="0.42" fill="#3c3c3c" opacity="0.25"/>
<circle cx="322.9" cy="62.9" r="0.50" fill="#3c3c3c" opacity="0.49"/>
<circle cx="327.0" cy="73.1" r="0.31" fill="#3c3c3c" opacity="0.34"/>
<circle cx="328.8" cy="62.5" r="0.46" fill="#3c3c3c" opacity="0.46"/>
<circle cx="321.6" cy="74.5" r="0.49" fill="#3c3c3c" opacity="0.21"/>
<circle cx="324.2" cy="73.7" r="0.35" fill="#3c3c3c" opacity="0.22"/>
<circle cx="320.4" cy="71.3" r="0.48" fill="#3c3c3c" opacity="0.45"/>
<circle cx="322.0" cy="74.9" r="0.50" fill="#3c3c3c" opacity="0.42"/>
<circle cx="330.6" cy="66.1" r="0.47" fill="#3c3c3c" opacity="0.46"/>
<circle cx="315.6" cy="55.0" r="0.39" fill="#3c3c3c" opacity="0.43"/>
<circle cx="318.7" cy="66.2" r="0.30" fill="#3c3c3c" opacity="0.34"/>
<circle cx="323.2" cy="81.5" r="0.45" fill="#3c3c3c" opacity="0.35"/>
<circle cx="327.5" cy="73.3" r="0.48" fill="#3c3c3c" opacity="0.40"/>
<circle cx="336.4" cy="71.3" r="0.39" fill="#3c3c3c" opacity="0.34"/>
<circle cx="311.4" cy="71.5" r="0.42" fill="#3c3c3c" opacity="0.48"/>
<circle cx="317.0" cy="72.7" r="0.44" fill="#3c3c3c" opacity="0.31"/>
<circle cx="326.2" cy="72.0" r="0.42" fill="#3c3c3c" opacity="0.22"/>
<circle cx="322.2" cy="68.4" r="0.34" fill="#3c3c3c" opacity="0.33"/>
<circle cx="314.5" cy="64.9" r="0.43" fill="#3c3c3c" opacity="0.29"/>
<circle cx="314.1" cy="82.8" r="0.36" fill="#3c3c3c" opacity="0.20"/>
<circle cx="330.1" cy="66.7" r="0.34" fill="#3c3c3c" opacity="0.24"/>
<circle cx="333.0" cy="64.6" r="0.32" fill="#3c3c3c" opacity="0.40"/>
<circle cx="325.7" cy="79.4" r="0.48" fill="#3c3c3c" opacity="0.22"/>
<circle cx="329.8" cy="69.5" r="0.34" fill="#3c3c3c" opacity="0.43"/>
<circle cx="325.5" cy="73.2" r="0.50" fill="#3c3c3c" opacity="0.34"/>
<circle cx="334.0" cy="64.8" r="0.36" fill="#3c3c3c" opacity="0.21"/>
<circle cx="317.7" cy="67.2" r="0.39" fill="#3c3c3c" opacity="0.48"/>
<circle cx="326.6" cy="81.7" r="0.32" fill="#3c3c3c" opacity="0.48"/>
<circle cx="333.2" cy="68.9" r="0.40" fill="#3c3c3c" opacity="0.42"/>
<circle cx="334.2" cy="64.9" r="0.31" fill="#3c3c3c" opacity="0.35"/>
<circle cx="329.6" cy="78.8" r="0.59" fill="#3c3c3c" opacity="0.46"/>
<circle cx="324.1" cy="80.9" r="0.40" fill="#3c3c3c" opacity="0.25"/>
<circle cx="323.5" cy="60.2" r="0.40" fill="#3c3c3c" opacity="0.33"/>
<circle cx="320.3" cy="61.3" r="0.44" fill="#3c3c3c" opacity="0.24"/>
<circle cx="327.5" cy="74.4" r="0.55" fill="#3c3c3c" opacity="0.35"/>
<circle cx="319.9" cy="66.7" r="0.41" fill="#3c3c3c" opacity="0.25"/>
<circle cx="333.4" cy="70.5" r="0.34" fill="#3c3c3c" opacity="0.41"/>
<circle cx="316.1" cy="66.4" r="0.53" fill="#3c3c3c" opacity="0.38"/>
<circle cx="337.2" cy="59.0" r="0.42" fill="#3c3c3c" opacity="0.39"/>
<circle cx="318.9" cy="77.1" r="0.41" fill="#3c3c3c" opacity="0.39"/>
<circle cx="320.1" cy="77.2" r="0.55" fill="#3c3c3c" opacity="0.44"/>
<circle cx="318.0" cy="59.9" r="0.42" fill="#3c3c3c" opacity="0.39"/>
<circle cx="324.0" cy="78.1" r="0.33" fill="#3c3c3c" opacity="0.44"/>
<circle cx="329.2" cy="69.2" r="0.41" fill="#3c3c3c" opacity="0.24"/>
<circle cx="330.3" cy="79.8" r="0.57" fill="#3c3c3c" opacity="0.23"/>
<circle cx="323.7" cy="83.8" r="0.37" fill="#3c3c3c" opacity="0.46"/>
<circle cx="319.2" cy="78.3" r="0.36" fill="#3c3c3c" opacity="0.29"/>
<circle cx="319.0" cy="74.6" r="0.52" fill="#3c3c3c" opacity="0.21"/>
<circle cx="315.9" cy="62.3" r="0.40" fill="#3c3c3c" opacity="0.26"/>
<circle cx="326.0" cy="73.9" r="0.54" fill="#3c3c3c" opacity="0.38"/>
<circle cx="331.7" cy="72.7" r="0.48" fill="#3c3c3c" opacity="0.30"/>
<circle cx="331.1" cy="73.6" r="0.41" fill="#3c3c3c" opacity="0.49"/>
<circle cx="313.9" cy="84.2" r="0.56" fill="#3c3c3c" opacity="0.37"/>
<circle cx="332.9" cy="81.0" r="0.33" fill="#3c3c3c" opacity="0.37"/>
<circle cx="326.5" cy="73.8" r="0.42" fill="#3c3c3c" opacity="0.25"/>
<circle cx="333.2" cy="71.5" r="0.57" fill="#3c3c3c" opacity="0.49"/>
<circle cx="324.5" cy="61.9" r="0.44" fill="#3c3c3c" opacity="0.43"/>
<circle cx="322.0" cy="68.4" r="0.46" fill="#3c3c3c" opacity="0.32"/>
<circle cx="313.0" cy="70.9" r="0.51" fill="#3c3c3c" opacity="0.37"/>
<circle cx="327.2" cy="59.3" r="0.33" fill="#3c3c3c" opacity="0.24"/>
<circle cx="328.0" cy="73.2" r="0.59" fill="#3c3c3c" opacity="0.29"/>
<circle cx="316.7" cy="74.9" r="0.47" fill="#3c3c3c" opacity="0.28"/>
<circle cx="325.1" cy="65.8" r="0.55" fill="#3c3c3c" opacity="0.44"/>
<circle cx="332.8" cy="72.1" r="0.33" fill="#3c3c3c" opacity="0.47"/>
<circle cx="329.0" cy="74.3" r="0.53" fill="#3c3c3c" opacity="0.38"/>
<circle cx="320.4" cy="65.7" r="0.46" fill="#3c3c3c" opacity="0.26"/>
<circle cx="318.8" cy="73.3" r="0.50" fill="#3c3c3c" opacity="0.23"/>
<circle cx="327.0" cy="75.5" r="0.46" fill="#3c3c3c" opacity="0.37"/>
<circle cx="344.7" cy="72.4" r="0.55" fill="#3c3c3c" opacity="0.31"/>
<circle cx="331.1" cy="83.0" r="0.59" fill="#3c3c3c" opacity="0.25"/>
<circle cx="324.5" cy="59.1" r="0.58" fill="#3c3c3c" opacity="0.26"/>
<circle cx="327.1" cy="74.9" r="0.37" fill="#3c3c3c" opacity="0.47"/>
<circle cx="330.7" cy="67.7" r="0.34" fill="#3c3c3c" opacity="0.31"/>
<circle cx="324.6" cy="82.1" r="0.52" fill="#3c3c3c" opacity="0.43"/>
<circle cx="316.9" cy="75.0" r="0.44" fill="#3c3c3c" opacity="0.31"/>
<circle cx="313.8" cy="75.0" r="0.51" fill="#3c3c3c" opacity="0.30"/>
<circle cx="320.4" cy="70.4" r="0.31" fill="#3c3c3c" opacity="0.32"/>
<circle cx="322.9" cy="73.4" r="0.32" fill="#3c3c3c" opacity="0.33"/>
<circle cx="336.5" cy="67.3" r="0.31" fill="#3c3c3c" opacity="0.30"/>
<circle cx="319.9" cy="76.4" r="0.34" fill="#3c3c3c" opacity="0.38"/>
<circle cx="327.6" cy="66.2" r="0.35" fill="#3c3c3c" opacity="0.23"/>
<circle cx="335.9" cy="73.1" r="0.37" fill="#3c3c3c" opacity="0.42"/>
<circle cx="324.7" cy="69.2" r="0.36" fill="#3c3c3c" opacity="0.29"/>
<circle cx="325.4" cy="60.6" r="0.39" fill="#3c3c3c" opacity="0.34"/>
<circle cx="319.1" cy="78.2" r="0.54" fill="#3c3c3c" opacity="0.28"/>
<circle cx="329.8" cy="57.4" r="0.48" fill="#3c3c3c" opacity="0.49"/>
<circle cx="328.0" cy="70.4" r="0.60" fill="#3c3c3c" opacity="0.26"/>
<circle cx="325.2" cy="68.6" r="0.39" fill="#3c3c3c" opacity="0.33"/>
<circle cx="329.6" cy="63.0" r="0.36" fill="#3c3c3c" opacity="0.47"/>
<circle cx="329.5" cy="65.7" r="0.32" fill="#3c3c3c" opacity="0.29"/>
<circle cx="322.1" cy="79.0" r="0.58" fill="#3c3c3c" opacity="0.38"/>
<circle cx="325.1" cy="69.6" r="0.37" fill="#3c3c3c" opacity="0.42"/>
<circle cx="321.3" cy="76.2" r="0.32" fill="#3c3c3c" opacity="0.22"/>
<circle cx="316.5" cy="76.6" r="0.42" fill="#3c3c3c" opacity="0.37"/>
<circle cx="323.7" cy="73.2" r="0.50" fill="#3c3c3c" opacity="0.30"/>
<circle cx="317.2" cy="72.4" r="0.38" fill="#3c3c3c" opacity="0.22"/>
<circle cx="322.3" cy="77.6" r="0.33" fill="#3c3c3c" opacity="0.21"/>
<circle cx="322.6" cy="72.2" r="0.56" fill="#3c3c3c" opacity="0.31"/>
<circle cx="316.0" cy="75.0" r="0.31" fill="#3c3c3c" opacity="0.23"/>
<circle cx="326.0" cy="63.3" r="0.45" fill="#3c3c3c" opacity="0.30"/>
<circle cx="324.1" cy="63.7" r="0.54" fill="#3c3c3c" opacity="0.45"/>
<circle cx="332.8" cy="65.0" r="0.50" fill="#3c3c3c" opacity="0.34"/>
<circle cx="315.0" cy="70.1" r="0.46" fill="#3c3c3c" opacity="0.45"/>
<circle cx="325.4" cy="70.2" r="0.53" fill="#3c3c3c" opacity="0.38"/>
<circle cx="311.5" cy="63.1" r="0.31" fill="#3c3c3c" opacity="0.34"/>
<circle cx="311.9" cy="84.0" r="0.35" fill="#3c3c3c" opacity="0.37"/>
<circle cx="331.2" cy="81.2" r="0.45" fill="#3c3c3c" opacity="0.42"/>
<circle cx="318.9" cy="85.6" r="0.30" fill="#3c3c3c" opacity="0.27"/>
<circle cx="322.5" cy="57.7" r="0.53" fill="#3c3c3c" opacity="0.28"/>
<circle cx="333.6" cy="77.4" r="0.52" fill="#3c3c3c" opacity="0.22"/>
<circle cx="331.9" cy="68.6" r="0.31" fill="#3c3c3c" opacity="0.34"/>
<circle cx="322.3" cy="74.8" r="0.57" fill="#3c3c3c" opacity="0.48"/>
<circle cx="329.4" cy="77.3" r="0.38" fill="#3c3c3c" opacity="0.40"/>
<circle cx="328.9" cy="76.0" r="0.42" fill="#3c3c3c" opacity="0.34"/>
<circle cx="315.3" cy="75.7" r="0.58" fill="#3c3c3c" opacity="0.48"/>
<circle cx="335.0" cy="64.8" r="0.37" fill="#3c3c3c" opacity="0.27"/>
<circle cx="314.3" cy="74.5" r="0.48" fill="#3c3c3c" opacity="0.30"/>
<circle cx="330.0" cy="71.7" r="0.31" fill="#3c3c3c" opacity="0.23"/>
<circle cx="326.9" cy="83.0" r="0.55" fill="#3c3c3c" opacity="0.21"/>
<circle cx="324.4" cy="77.2" r="0.54" fill="#3c3c3c" opacity="0.47"/>
<circle cx="323.7" cy="75.2" r="0.59" fill="#3c3c3c" opacity="0.49"/>
<circle cx="322.4" cy="64.3" r="0.52" fill="#3c3c3c" opacity="0.43"/>
<circle cx="318.4" cy="71.7" r="0.46" fill="#3c3c3c" opacity="0.40"/>
<circle cx="319.5" cy="80.9" r="0.34" fill="#3c3c3c" opacity="0.49"/>
<circle cx="325.2" cy="76.9" r="0.59" fill="#3c3c3c" opacity="0.49"/>
<circle cx="336.0" cy="65.9" r="0.55" fill="#3c3c3c" opacity="0.45"/>
<circle cx="321.5" cy="70.9" r="0.52" fill="#3c3c3c" opacity="0.45"/>
<circle cx="325.1" cy="70.2" r="0.32" fill="#3c3c3c" opacity="0.42"/>
<circle cx="309.2" cy="73.1" r="0.60" fill="#3c3c3c" opacity="0.33"/>
<circle cx="319.3" cy="62.8" r="0.51" fill="#3c3c3c" opacity="0.31"/>
<circle cx="322.3" cy="70.0" r="0.57" fill="#3c3c3c" opacity="0.42"/>
<circle cx="326.5" cy="64.6" r="0.36" fill="#3c3c3c" opacity="0.34"/>
<circle cx="320.3" cy="64.0" r="0.33" fill="#3c3c3c" opacity="0.20"/>
<circle cx="319.8" cy="75.1" r="0.37" fill="#3c3c3c" opacity="0.27"/>
<circle cx="314.7" cy="77.5" r="0.57" fill="#3c3c3c" opacity="0.40"/>
<circle cx="338.0" cy="73.8" r="0.48" fill="#3c3c3c" opacity="0.42"/>
<circle cx="319.1" cy="67.7" r="0.40" fill="#3c3c3c" opacity="0.22"/>
<circle cx="322.8" cy="70.0" r="0.50" fill="#3c3c3c" opacity="0.47"/>
<circle cx="319.3" cy="63.7" r="0.54" fill="#3c3c3c" opacity="0.49"/>
<circle cx="332.1" cy="52.4" r="0.44" fill="#3c3c3c" opacity="0.20"/>
<circle cx="316.5" cy="65.4" r="0.56" fill="#3c3c3c" opacity="0.38"/>
<circle cx="323.6" cy="72.5" r="0.55" fill="#3c3c3c" opacity="0.39"/>
<circle cx="333.4" cy="71.1" r="0.56" fill="#3c3c3c" opacity="0.43"/>
<circle cx="331.8" cy="71.6" r="0.57" fill="#3c3c3c" opacity="0.32"/>
<circle cx="330.2" cy="72.4" r="0.41" fill="#3c3c3c" opacity="0.50"/>
<circle cx="319.6" cy="75.4" r="0.51" fill="#3c3c3c" opacity="0.23"/>
<circle cx="321.6" cy="78.6" r="0.34" fill="#3c3c3c" opacity="0.38"/>
<circle cx="312.8" cy="77.9" r="0.40" fill="#3c3c3c" opacity="0.49"/>
<circle cx="326.9" cy="80.1" r="0.37" fill="#3c3c3c" opacity="0.20"/>
<circle cx="319.3" cy="86.1" r="0.39" fill="#3c3c3c" opacity="0.35"/>
</g>
<g filter="url(#soft)">
<ellipse cx="467.5" cy="62.0" rx="9.9" ry="9.2" fill="url(#col)" opacity="0.9"/>
<circle cx="464.0" cy="61.5" r="0.46" fill="#3c3c3c" opacity="0.22"/>
<circle cx="465.3" cy="64.8" r="0.54" fill="#3c3c3c" opacity="0.43"/>
<circle cx="465.7" cy="56.6" r="0.56" fill="#3c3c3c" opacity="0.42"/>
<circle cx="469.7" cy="62.8" r="0.52" fill="#3c3c3c" opacity="0.45"/>
<circle cx="475.3" cy="61.5" r="0.35" fill="#3c3c3c" opacity="0.37"/>
<circle cx="463.1" cy="58.0" r="0.34" fill="#3c3c3c" opacity="0.49"/>
<circle cx="463.9" cy="61.8" r="0.59" fill="#3c3c3c" opacity="0.32"/>
<circle cx="473.6" cy="64.7" r="0.38" fill="#3c3c3c" opacity="0.27"/>
<circle cx="465.5" cy="67.4" r="0.40" fill="#3c3c3c" opacity="0.40"/>
<circle cx="478.9" cy="54.8" r="0.57" fill="#3c3c3c" opacity="0.48"/>
<circle cx="467.3" cy="69.8" r="0.33" fill="#3c3c3c" opacity="0.37"/>
<circle cx="469.3" cy="62.9" r="0.58" fill="#3c3c3c" opacity="0.24"/>
<circle cx="466.4" cy="57.0" r="0.30" fill="#3c3c3c" opacity="0.44"/>
<circle cx="476.2" cy="65.3" r="0.55" fill="#3c3c3c" opacity="0.35"/>
<circle cx="466.5" cy="62.3" r="0.51" fill="#3c3c3c" opacity="0.21"/>
<circle cx="457.4" cy="60.4" r="0.50" fill="#3c3c3c" opacity="0.23"/>
<circle cx="466.2" cy="55.6" r="0.40" fill="#3c3c3c" opacity="0.43"/>
<circle cx="463.4" cy="59.9" r="0.46" fill="#3c3c3c" opacity="0.28"/>
<circle cx="465.3" cy="70.6" r="0.40" fill="#3c3c3c" opacity="0.43"/>
<circle cx="465.5" cy="64.0" r="0.30" fill="#3c3c3c" opacity="0.49"/>
<circle cx="467.6" cy="50.1" r="0.48" fill="#3c3c3c" opacity="0.22"/>
<circle cx="468.2" cy="63.1" r="0.48" fill="#3c3c3c" opacity="0.39"/>
<circle cx="471.1" cy="61.0" r="0.37" fill="#3c3c3c" opacity="0.27"/>
<circle cx="468.2" cy="62.8" r="0.45" fill="#3c3c3c" opacity="0.33"/>
<circle cx="460.0" cy="69.6" r="0.39" fill="#3c3c3c" opacity="0.45"/>
<circle cx="465.4" cy="61.6" r="0.31" fill="#3c3c3c" opacity="0.38"/>
<circle cx="468.5" cy="61.0" r="0.51" fill="#3c3c3c" opacity="0.27"/>
<circle cx="464.2" cy="54.7" r="0.52" fill="#3c3c3c" opacity="0.27"/>
<circle cx="474.0" cy="71.1" r="0.57" fill="#3c3c3c" opacity="0.48"/>
<circle cx="466.1" cy="61.7" r="0.41" fill="#3c3c3c" opacity="0.47"/>
<circle cx="470.9" cy="63.4" r="0.31" fill="#3c3c3c" opacity="0.46"/>
<circle cx="466.4" cy="63.4" r="0.41" fill="#3c3c3c" opacity="0.26"/>
<circle cx="461.8" cy="64.4" r="0.50" fill="#3c3c3c" opacity="0.23"/>
<circle cx="466.0" cy="61.7" r="0.43" fill="#3c3c3c" opacity="0.44"/>
<circle cx="466.8" cy="69.8" r="0.37" fill="#3c3c3c" opacity="0.32"/>
<circle cx="467.6" cy="61.7" r="0.47" fill="#3c3c3c" opacity="0.36"/>
<circle cx="465.1" cy="52.0" r="0.51" fill="#3c3c3c" opacity="0.27"/>
<circle cx="469.1" cy="66.6" r="0.38" fill="#3c3c3c" opacity="0.37"/>
<circle cx="473.4" cy="65.4" r="0.42" fill="#3c3c3c" opacity="0.21"/>
<circle cx="475.1" cy="68.8" r="0.55" fill="#3c3c3c" opacity="0.46"/>
<circle cx="457.5" cy="69.7" r="0.35" fill="#3c3c3c" opacity="0.42"/>
<circle cx="470.4" cy="61.0" r="0.30" fill="#3c3c3c" opacity="0.24"/>
<circle cx="474.5" cy="65.8" r="0.48" fill="#3c3c3c" opacity="0.34"/>
<circle cx="472.4" cy="66.0" r="0.34" fill="#3c3c3c" opacity="0.24"/>
<circle cx="462.1" cy="58.6" r="0.54" fill="#3c3c3c" opacity="0.45"/>
<circle cx="470.0" cy="64.7" r="0.34" fill="#3c3c3c" opacity="0.35"/>
<circle cx="476.4" cy="63.5" r="0.50" fill="#3c3c3c" opacity="0.44"/>
<circle cx="457.6" cy="62.7" r="0.55" fill="#3c3c3c" opacity="0.45"/>
<circle cx="468.6" cy="59.2" r="0.40" fill="#3c3c3c" opacity="0.22"/>
<circle cx="468.0" cy="57.3" r="0.60" fill="#3c3c3c" opacity="0.29"/>
<circle cx="459.3" cy="65.5" r="0.59" fill="#3c3c3c" opacity="0.43"/>
<circle cx="475.1" cy="55.6" r="0.38" fill="#3c3c3c" opacity="0.39"/>
<circle cx="473.7" cy="64.5" r="0.59" fill="#3c3c3c" opacity="0.35"/>
<circle cx="471.1" cy="66.3" r="0.32" fill="#3c3c3c" opacity="0.34"/>
<circle cx="471.6" cy="64.1" r="0.55" fill="#3c3c3c" opacity="0.42"/>
<circle cx="470.5" cy="58.3" r="0.43" fill="#3c3c3c" opacity="0.22"/>
<circle cx="468.9" cy="56.7" r="0.42" fill="#3c3c3c" opacity="0.24"/>
<circle cx="465.9" cy="62.4" r="0.34" fill="#3c3c3c" opacity="0.22"/>
<circle cx="465.3" cy="63.0" r="0.55" fill="#3c3c3c" opacity="0.38"/>
<circle cx="471.3" cy="58.0" r="0.35" fill="#3c3c3c" opacity="0.28"/>
<circle cx="470.7" cy="57.3" r="0.49" fill="#3c3c3c" opacity="0.39"/>
<circle cx="470.4" cy="62.8" r="0.43" fill="#3c3c3c" opacity="0.45"/>
<circle cx="473.1" cy="60.0" r="0.38" fill="#3c3c3c" opacity="0.21"/>
<circle cx="463.2" cy="60.4" r="0.58" fill="#3c3c3c" opacity="0.26"/>
<circle cx="467.7" cy="62.7" r="0.31" fill="#3c3c3c" opacity="0.44"/>
<circle cx="469.3" cy="60.2" r="0.30" fill="#3c3c3c" opacity="0.37"/>
<circle cx="467.6" cy="67.8" r="0.57" fill="#3c3c3c" opacity="0.42"/>
<circle cx="466.3" cy="67.6" r="0.39" fill="#3c3c3c" opacity="0.43"/>
<circle cx="467.0" cy="70.5" r="0.50" fill="#3c3c3c" opacity="0.47"/>
<circle cx="461.2" cy="70.6" r="0.47" fill="#3c3c3c" opacity="0.28"/>
<circle cx="465.2" cy="59.1" r="0.33" fill="#3c3c3c" opacity="0.21"/>
<circle cx="464.9" cy="60.0" r="0.33" fill="#3c3c3c" opacity="0.43"/>
<circle cx="472.2" cy="67.5" r="0.38" fill="#3c3c3c" opacity="0.31"/>
<circle cx="475.2" cy="58.8" r="0.55" fill="#3c3c3c" opacity="0.49"/>
<circle cx="459.1" cy="56.0" r="0.49" fill="#3c3c3c" opacity="0.37"/>
<circle cx="465.5" cy="65.7" r="0.47" fill="#3c3c3c" opacity="0.27"/>
<circle cx="461.9" cy="55.5" r="0.52" fill="#3c3c3c" opacity="0.27"/>
<circle cx="471.7" cy="62.7" r="0.43" fill="#3c3c3c" opacity="0.45"/>
<circle cx="462.3" cy="60.5" r="0.48" fill="#3c3c3c" opacity="0.37"/>
<circle cx="465.0" cy="57.2" r="0.47" fill="#3c3c3c" opacity="0.27"/>
<circle cx="471.0" cy="65.2" r="0.57" fill="#3c3c3c" opacity="0.48"/>
<circle cx="465.9" cy="67.3" r="0.46" fill="#3c3c3c" opacity="0.34"/>
<circle cx="471.0" cy="68.7" r="0.33" fill="#3c3c3c" opacity="0.27"/>
<circle cx="467.0" cy="64.8" r="0.36" fill="#3c3c3c" opacity="0.22"/>
<circle cx="464.8" cy="61.6" r="0.49" fill="#3c3c3c" opacity="0.38"/>
<circle cx="463.9" cy="58.6" r="0.48" fill="#3c3c3c" opacity="0.29"/>
<circle cx="460.8" cy="63.4" r="0.36" fill="#3c3c3c" opacity="0.42"/>
<circle cx="457.0" cy="56.2" r="0.48" fill="#3c3c3c" opacity="0.36"/>
<circle cx="467.9" cy="58.6" r="0.41" fill="#3c3c3c" opacity="0.33"/>
<circle cx="466.8" cy="55.3" r="0.36" fill="#3c3c3c" opacity="0.49"/>
<circle cx="472.7" cy="61.4" r="0.60" fill="#3c3c3c" opacity="0.39"/>
<circle cx="466.1" cy="63.2" r="0.31" fill="#3c3c3c" opacity="0.38"/>
<circle cx="466.3" cy="56.3" r="0.53" fill="#3c3c3c" opacity="0.33"/>
<circle cx="467.2" cy="56.3" r="0.49" fill="#3c3c3c" opacity="0.36"/>
<circle cx="464.6" cy="57.3" r="0.33" fill="#3c3c3c" opacity="0.40"/>
<circle cx="466.1" cy="57.7" r="0.59" fill="#3c3c3c" opacity="0.34"/>
<circle cx="470.2" cy="66.3" r="0.41" fill="#3c3c3c" opacity="0.25"/>
<circle cx="469.6" cy="60.3" r="0.51" fill="#3c3c3c" opacity="0.25"/>
<circle cx="452.3" cy="60.5" r="0.33" fill="#3c3c3c" opacity="0.46"/>
<circle cx="479.9" cy="62.4" r="0.57" fill="#3c3c3c" opacity="0.33"/>
<circle cx="464.3" cy="58.5" r="0.35" fill="#3c3c3c" opacity="0.31"/>
<circle cx="459.0" cy="65.1" r="0.33" fill="#3c3c3c" opacity="0.36"/>
<circle cx="461.9" cy="63.0" r="0.54" fill="#3c3c3c" opacity="0.38"/>
<circle cx="462.5" cy="71.4" r="0.48" fill="#3c3c3c" opacity="0.28"/>
<circle cx="458.9" cy="59.5" r="0.31" fill="#3c3c3c" opacity="0.39"/>
<circle cx="463.8" cy="62.3" r="0.35" fill="#3c3c3c" opacity="0.27"/>
<circle cx="463.1" cy="63.7" r="0.48" fill="#3c3c3c" opacity="0.28"/>
<circle cx="463.8" cy="58.7" r="0.54" fill="#3c3c3c" opacity="0.44"/>
<circle cx="468.5" cy="73.5" r="0.46" fill="#3c3c3c" opacity="0.30"/>
<circle cx="467.3" cy="68.6" r="0.43" fill="#3c3c3c" opacity="0.41"/>
<circle cx="467.2" cy="70.3" r="0.38" fill="#3c3c3c" opacity="0.46"/>
<circle cx="463.3" cy="63.6" r="0.47" fill="#3c3c3c" opacity="0.36"/>
<circle cx="462.0" cy="60.4" r="0.58" fill="#3c3c3c" opacity="0.42"/>
<circle cx="478.7" cy="68.8" r="0.30" fill="#3c3c3c" opacity="0.22"/>
<circle cx="469.0" cy="58.9" r="0.31" fill="#3c3c3c" opacity="0.25"/>
<circle cx="458.8" cy="62.2" r="0.31" fill="#3c3c3c" opacity="0.25"/>
<circle cx="469.0" cy="62.1" r="0.39" fill="#3c3c3c" opacity="0.35"/>
<circle cx="473.9" cy="60.8" r="0.56" fill="#3c3c3c" opacity="0.38"/>
<circle cx="473.2" cy="58.6" r="0.37" fill="#3c3c3c" opacity="0.31"/>
<circle cx="465.3" cy="62.3" r="0.58" fill="#3c3c3c" opacity="0.34"/>
<circle cx="469.1" cy="66.6" r="0.54" fill="#3c3c3c" opacity="0.28"/>
<circle cx="465.8" cy="61.0" r="0.37" fill="#3c3c3c" opacity="0.26"/>
<circle cx="460.6" cy="61.8" r="0.37" fill="#3c3c3c" opacity="0.41"/>
<circle cx="461.1" cy="58.4" r="0.60" fill="#3c3c3c" opacity="0.30"/>
<circle cx="472.5" cy="61.9" r="0.45" fill="#3c3c3c" opacity="0.25"/>
<circle cx="473.1" cy="65.1" r="0.33" fill="#3c3c3c" opacity="0.21"/>
<circle cx="472.4" cy="64.7" r="0.36" fill="#3c3c3c" opacity="0.28"/>
<circle cx="468.0" cy="57.5" r="0.34" fill="#3c3c3c" opacity="0.40"/>
<circle cx="473.8" cy="61.8" r="0.43" fill="#3c3c3c" opacity="0.36"/>
<circle cx="465.0" cy="54.3" r="0.54" fill="#3c3c3c" opacity="0.27"/>
<circle cx="467.9" cy="60.1" r="0.34" fill="#3c3c3c" opacity="0.35"/>
<circle cx="469.8" cy="66.9" r="0.39" fill="#3c3c3c" opacity="0.48"/>
<circle cx="459.9" cy="65.1" r="0.58" fill="#3c3c3c" opacity="0.34"/>
<circle cx="468.1" cy="57.1" r="0.42" fill="#3c3c3c" opacity="0.24"/>
<circle cx="462.0" cy="54.0" r="0.51" fill="#3c3c3c" opacity="0.30"/>
<circle cx="463.3" cy="61.4" r="0.42" fill="#3c3c3c" opacity="0.43"/>
<circle cx="472.7" cy="62.2" r="0.45" fill="#3c3c3c" opacity="0.24"/>
<circle cx="467.1" cy="58.8" r="0.42" fill="#3c3c3c" opacity="0.27"/>
<circle cx="463.6" cy="59.4" r="0.51" fill="#3c3c3c" opacity="0.33"/>
<circle cx="468.7" cy="56.8" r="0.33" fill="#3c3c3c" opacity="0.35"/>
<circle cx="467.4" cy="65.5" r="0.58" fill="#3c3c3c" opacity="0.34"/>
<circle cx="467.3" cy="59.6" r="0.49" fill="#3c3c3c" opacity="0.24"/>
<circle cx="467.9" cy="64.2" r="0.31" fill="#3c3c3c" opacity="0.47"/>
<circle cx="471.7" cy="61.1" r="0.30" fill="#3c3c3c" opacity="0.42"/>
<circle cx="466.8" cy="60.9" r="0.53" fill="#3c3c3c" opacity="0.22"/>
<circle cx="468.3" cy="69.3" r="0.53" fill="#3c3c3c" opacity="0.27"/>
<circle cx="459.4" cy="61.6" r="0.48" fill="#3c3c3c" opacity="0.36"/>
<circle cx="468.2" cy="63.4" r="0.36" fill="#3c3c3c" opacity="0.36"/>
<circle cx="463.4" cy="59.4" r="0.49" fill="#3c3c3c" opacity="0.37"/>
<circle cx="464.7" cy="58.6" r="0.55" fill="#3c3c3c" opacity="0.36"/>
</g>
<ellipse cx="277.8" cy="74.0" rx="1.8" ry="1.0" fill="#444" opacity="0.6" filter="url(#soft)"/>
<circle cx="509.7" cy="65.7" r="1.2" fill="#333" opacity="0.7" filter="url(#soft)"/>
<circle cx="395.8" cy="48.3" r="1.1" fill="#333" opacity="0.7"/>
<rect x="265.50" y="104.50" width="27.00" height="6.00" fill="#fff" stroke="none" stroke-width="0" opacity="0.05"/>
<line x1="271.50" y1="111.20" x2="292.70" y2="111.20" stroke="#aaaaaa" stroke-width="1.0" />
<rect x="340.30" y="104.50" width="27.00" height="6.00" fill="#fff" stroke="none" stroke-width="0" opacity="0.05"/>
<line x1="346.30" y1="111.20" x2="367.50" y2="111.20" stroke="#aaaaaa" stroke-width="1.0" />
<rect x="415.50" y="104.50" width="27.00" height="6.00" fill="#fff" stroke="none" stroke-width="0" opacity="0.1"/>
<line x1="421.50" y1="111.20" x2="442.70" y2="111.20" stroke="#8a8a8a" stroke-width="1.0" />
<rect x="489.30" y="104.50" width="27.00" height="6.00" fill="#fff" stroke="none" stroke-width="0" opacity="0.05"/>
<line x1="495.30" y1="111.20" x2="516.50" y2="111.20" stroke="#aaaaaa" stroke-width="1.0" />
<rect x="221.00" y="35.30" width="297.30" height="77.20" fill="none" stroke="#333" stroke-width="0.8" />
<line x1="294.50" y1="35.30" x2="294.50" y2="112.50" stroke="#484848" stroke-width="1.4" />
<line x1="369.30" y1="35.30" x2="369.30" y2="112.50" stroke="#484848" stroke-width="1.4" />
<line x1="444.50" y1="35.30" x2="444.50" y2="112.50" stroke="#484848" stroke-width="1.4" />
<text x="1.20" y="162.50" font-size="10.8" font-weight="bold" text-anchor="start" >C</text>
<line x1="49.30" y1="178.60" x2="49.30" y2="256.50" stroke="#000" stroke-width="1.1" />
<line x1="48.80" y1="256.00" x2="168.00" y2="256.00" stroke="#000" stroke-width="1.1" />
<line x1="46.50" y1="256.00" x2="49.30" y2="256.00" stroke="#000" stroke-width="1.0" />
<text x="46.10" y="257.80" font-size="5" font-weight="bold" text-anchor="end" fill="#222">0</text>
<line x1="46.50" y1="230.40" x2="49.30" y2="230.40" stroke="#000" stroke-width="1.0" />
<text x="46.10" y="232.20" font-size="5" font-weight="bold" text-anchor="end" fill="#222">50</text>
<line x1="46.50" y1="204.80" x2="49.30" y2="204.80" stroke="#000" stroke-width="1.0" />
<text x="46.10" y="206.60" font-size="5" font-weight="bold" text-anchor="end" fill="#222">100</text>
<line x1="46.50" y1="179.20" x2="49.30" y2="179.20" stroke="#000" stroke-width="1.0" />
<text x="46.10" y="181.00" font-size="5" font-weight="bold" text-anchor="end" fill="#222">150</text>
<rect x="54.20" y="209.25" width="20.40" height="46.75" fill="#000" stroke="none" stroke-width="0" />
<line x1="64.40" y1="209.25" x2="64.40" y2="206.95" stroke="#000" stroke-width="1.4" />
<line x1="59.40" y1="206.95" x2="69.40" y2="206.95" stroke="#000" stroke-width="1.4" />
<rect x="83.10" y="206.59" width="20.70" height="49.41" fill="#000" stroke="none" stroke-width="0" />
<line x1="93.45" y1="206.59" x2="93.45" y2="201.22" stroke="#000" stroke-width="1.4" />
<line x1="88.45" y1="201.22" x2="98.45" y2="201.22" stroke="#000" stroke-width="1.4" />
<rect x="113.20" y="254.05" width="19.70" height="1.95" fill="#000" stroke="none" stroke-width="0" />
<rect x="142.30" y="254.05" width="20.20" height="1.95" fill="#000" stroke="none" stroke-width="0" />
<path d="M117.5,242.5 L117.5,195.6 L156.3,195.6 L156.3,242.5" fill="none" stroke="#000" stroke-width="1.4" />
<polygon points="136.80,190.00 137.32,191.39 138.80,191.45 137.64,192.37 138.03,193.80 136.80,192.98 135.57,193.80 135.96,192.37 134.80,191.45 136.28,191.39" fill="#000" stroke="#000" stroke-width="0.59" stroke-linejoin="round"/>
<line x1="64.40" y1="256.00" x2="64.40" y2="258.50" stroke="#000" stroke-width="1.0" />
<text transform="translate(66.30,264.30) rotate(-45)" font-size="6.1" font-weight="bold" text-anchor="end" >Mac-1</text>
<line x1="93.45" y1="256.00" x2="93.45" y2="258.50" stroke="#000" stroke-width="1.0" />
<text transform="translate(95.35,264.30) rotate(-45)" font-size="6.1" font-weight="bold" text-anchor="end" >Mac-1-sh0</text>
<line x1="123.05" y1="256.00" x2="123.05" y2="258.50" stroke="#000" stroke-width="1.0" />
<text transform="translate(124.95,264.30) rotate(-45)" font-size="6.1" font-weight="bold" text-anchor="end" >Mac-1-sh1</text>
<line x1="152.40" y1="256.00" x2="152.40" y2="258.50" stroke="#000" stroke-width="1.0" />
<text transform="translate(154.30,264.30) rotate(-45)" font-size="6.1" font-weight="bold" text-anchor="end" >Mac-1-sh2</text>
<text transform="translate(32.80,221.40) rotate(-90)" font-size="7.9" font-weight="bold" text-anchor="middle" >NO. of CFC per 10<tspan font-size="4" dy="-2.5">3</tspan><tspan dy="2.5"> input cells</tspan></text>
<text x="186.40" y="162.50" font-size="10.8" font-weight="bold" text-anchor="start" >D</text>
<line x1="204.90" y1="160.00" x2="204.90" y2="308.10" stroke="#6a6a6a" stroke-width="1.6" />
<line x1="204.90" y1="308.10" x2="345.00" y2="308.10" stroke="#6a6a6a" stroke-width="1.6" />
<path d="M204.9,154.6 L206.1,161.3 L203.7,161.3Z" fill="#222" stroke="none" stroke-width="1" />
<path d="M350.9,308.1 L344.2,306.9 L344.2,309.3Z" fill="#222" stroke="none" stroke-width="1" />
<text transform="translate(200.00,220.60) rotate(-90)" font-size="7.0" font-weight="bold" text-anchor="middle" >Cell Number</text>
<text x="283.00" y="315.90" font-size="6.2" font-weight="bold" text-anchor="middle" >PI</text>
<line x1="215.10" y1="171.70" x2="215.10" y2="221.50" stroke="#bbb" stroke-width="1.0" />
<line x1="215.10" y1="221.50" x2="271.90" y2="221.50" stroke="#aaa" stroke-width="0.9" />
<rect x="210.60" y="220.50" width="1.1" height="2.0" fill="#444"/>
<rect x="210.60" y="212.30" width="1.1" height="2.0" fill="#444"/>
<rect x="210.60" y="204.10" width="1.1" height="2.0" fill="#444"/>
<rect x="210.60" y="195.90" width="1.1" height="2.0" fill="#444"/>
<rect x="210.60" y="187.70" width="1.1" height="2.0" fill="#444"/>
<rect x="210.60" y="179.50" width="1.1" height="2.0" fill="#444"/>
<rect x="214.30" y="223.70" width="1.6" height="1.0" fill="#888"/>
<rect x="223.77" y="223.70" width="1.6" height="1.0" fill="#888"/>
<rect x="233.23" y="223.70" width="1.6" height="1.0" fill="#888"/>
<rect x="242.70" y="223.70" width="1.6" height="1.0" fill="#888"/>
<rect x="252.17" y="223.70" width="1.6" height="1.0" fill="#888"/>
<rect x="261.63" y="223.70" width="1.6" height="1.0" fill="#888"/>
<rect x="271.10" y="223.70" width="1.6" height="1.0" fill="#888"/>
<path d="M239.50,221.5 L240.30,214.50 L248.05,214.00 L254.70,214.30 L256.20,221.5 Z" fill="url(#dots)" stroke="none" stroke-width="1" />
<path d="M239.40,209.50 L240.90,212.50 L253.70,212.50 L255.70,211.10 L258.20,208.10 L260.20,211.10 L264.50,221.00" fill="none" stroke="#444" stroke-width="0.8" stroke-linejoin="round"/>
<path d="M233.60,221.5 C235.97,221.00 237.00,183.80 237.90,175.80 C238.80,183.80 239.66,221.00 241.80,221.5 Z" fill="#4e4e4e" stroke="#3a3a3a" stroke-width="0.4" />
<path d="M253.70,221.5 C256.20,221.00 256.20,214.50 258.20,214.50 C260.20,214.50 262.00,221.00 264.50,221.5 Z" fill="#4e4e4e" stroke="#3a3a3a" stroke-width="0.4" />
<text x="242.00" y="163.50" font-size="6.6"  text-anchor="middle" fill="#222">Mac-1</text>
<line x1="289.70" y1="171.10" x2="289.70" y2="221.50" stroke="#bbb" stroke-width="1.0" />
<line x1="289.70" y1="221.50" x2="348.30" y2="221.50" stroke="#aaa" stroke-width="0.9" />
<rect x="285.20" y="220.50" width="1.1" height="2.0" fill="#444"/>
<rect x="285.20" y="212.30" width="1.1" height="2.0" fill="#444"/>
<rect x="285.20" y="204.10" width="1.1" height="2.0" fill="#444"/>
<rect x="285.20" y="195.90" width="1.1" height="2.0" fill="#444"/>
<rect x="285.20" y="187.70" width="1.1" height="2.0" fill="#444"/>
<rect x="285.20" y="179.50" width="1.1" height="2.0" fill="#444"/>
<rect x="288.90" y="223.70" width="1.6" height="1.0" fill="#888"/>
<rect x="298.67" y="223.70" width="1.6" height="1.0" fill="#888"/>
<rect x="308.43" y="223.70" width="1.6" height="1.0" fill="#888"/>
<rect x="318.20" y="223.70" width="1.6" height="1.0" fill="#888"/>
<rect x="327.97" y="223.70" width="1.6" height="1.0" fill="#888"/>
<rect x="337.73" y="223.70" width="1.6" height="1.0" fill="#888"/>
<rect x="347.50" y="223.70" width="1.6" height="1.0" fill="#888"/>
<path d="M315.50,221.5 L316.30,216.30 L324.70,215.80 L330.40,216.10 L331.90,221.5 Z" fill="url(#dots)" stroke="none" stroke-width="1" />
<path d="M315.40,212.10 L316.90,215.10 L329.40,215.10 L333.00,207.70 L335.50,204.70 L337.50,207.70 L341.50,221.00" fill="none" stroke="#444" stroke-width="0.8" stroke-linejoin="round"/>
<path d="M309.90,221.5 C312.10,221.00 313.00,179.10 313.90,171.10 C314.80,179.10 315.75,221.00 318.00,221.5 Z" fill="#4e4e4e" stroke="#3a3a3a" stroke-width="0.4" />
<path d="M329.40,221.5 C331.90,221.00 333.50,210.80 335.50,210.80 C337.50,210.80 339.00,221.00 341.50,221.5 Z" fill="#4e4e4e" stroke="#3a3a3a" stroke-width="0.4" />
<text x="314.00" y="161.10" font-size="6.6"  text-anchor="middle" fill="#222">Mac-1-sh0</text>
<line x1="215.10" y1="247.70" x2="215.10" y2="298.20" stroke="#bbb" stroke-width="1.0" />
<line x1="215.10" y1="298.20" x2="274.60" y2="298.20" stroke="#aaa" stroke-width="0.9" />
<rect x="210.60" y="297.20" width="1.1" height="2.0" fill="#444"/>
<rect x="210.60" y="287.10" width="1.1" height="2.0" fill="#444"/>
<rect x="210.60" y="277.00" width="1.1" height="2.0" fill="#444"/>
<rect x="210.60" y="266.90" width="1.1" height="2.0" fill="#444"/>
<rect x="210.60" y="256.80" width="1.1" height="2.0" fill="#444"/>
<rect x="214.30" y="300.40" width="1.6" height="1.0" fill="#888"/>
<rect x="224.22" y="300.40" width="1.6" height="1.0" fill="#888"/>
<rect x="234.13" y="300.40" width="1.6" height="1.0" fill="#888"/>
<rect x="244.05" y="300.40" width="1.6" height="1.0" fill="#888"/>
<rect x="253.97" y="300.40" width="1.6" height="1.0" fill="#888"/>
<rect x="263.88" y="300.40" width="1.6" height="1.0" fill="#888"/>
<rect x="273.80" y="300.40" width="1.6" height="1.0" fill="#888"/>
<path d="M239.90,298.2 L240.70,296.50 L248.70,296.00 L255.40,296.30 L256.90,298.2 Z" fill="url(#dots)" stroke="none" stroke-width="1" />
<path d="M239.80,292.00 L241.30,295.00 L254.40,295.00 L256.60,295.00 L259.10,292.00 L261.10,295.00 L265.20,297.70" fill="none" stroke="#444" stroke-width="0.8" stroke-linejoin="round"/>
<path d="M234.20,298.2 C236.46,297.70 237.40,262.40 238.30,254.40 C239.20,262.40 240.10,297.70 242.30,298.2 Z" fill="#4e4e4e" stroke="#3a3a3a" stroke-width="0.4" />
<path d="M254.40,298.2 C256.90,297.70 257.10,293.30 259.10,293.30 C261.10,293.30 262.70,297.70 265.20,298.2 Z" fill="#4e4e4e" stroke="#3a3a3a" stroke-width="0.4" />
<text x="244.40" y="244.90" font-size="6.6"  text-anchor="middle" fill="#222">Mac-1-sh1</text>
<line x1="290.10" y1="247.70" x2="290.10" y2="297.50" stroke="#bbb" stroke-width="1.0" />
<line x1="290.10" y1="297.50" x2="348.30" y2="297.50" stroke="#aaa" stroke-width="0.9" />
<rect x="285.60" y="296.50" width="1.1" height="2.0" fill="#444"/>
<rect x="285.60" y="286.40" width="1.1" height="2.0" fill="#444"/>
<rect x="285.60" y="276.30" width="1.1" height="2.0" fill="#444"/>
<rect x="285.60" y="266.20" width="1.1" height="2.0" fill="#444"/>
<rect x="285.60" y="256.10" width="1.1" height="2.0" fill="#444"/>
<rect x="289.30" y="299.70" width="1.6" height="1.0" fill="#888"/>
<rect x="299.00" y="299.70" width="1.6" height="1.0" fill="#888"/>
<rect x="308.70" y="299.70" width="1.6" height="1.0" fill="#888"/>
<rect x="318.40" y="299.70" width="1.6" height="1.0" fill="#888"/>
<rect x="328.10" y="299.70" width="1.6" height="1.0" fill="#888"/>
<rect x="337.80" y="299.70" width="1.6" height="1.0" fill="#888"/>
<rect x="347.50" y="299.70" width="1.6" height="1.0" fill="#888"/>
<path d="M307.90,297.5 C309.88,297.00 310.60,256.40 311.50,248.40 C312.40,256.40 313.21,297.00 315.30,297.5 Z" fill="#4e4e4e" stroke="#3a3a3a" stroke-width="0.4" />
<path d="M328.10,297.5 C330.60,297.00 329.40,295.30 331.40,295.30 C333.40,295.30 333.60,297.00 336.10,297.5 Z" fill="#4e4e4e" stroke="#3a3a3a" stroke-width="0.4" />
<text x="315.50" y="244.00" font-size="6.6"  text-anchor="middle" fill="#222">Mac-1-sh2</text>
<text x="375.70" y="162.50" font-size="10.8" font-weight="bold" text-anchor="start" >E</text>
<line x1="398.20" y1="192.80" x2="398.20" y2="273.80" stroke="#000" stroke-width="1.1" />
<line x1="397.70" y1="273.30" x2="513.00" y2="273.30" stroke="#000" stroke-width="1.1" />
<line x1="395.40" y1="273.30" x2="398.20" y2="273.30" stroke="#000" stroke-width="1.0" />
<text x="395.20" y="275.20" font-size="5.4" font-weight="bold" text-anchor="end" fill="#222">0</text>
<line x1="395.40" y1="257.30" x2="398.20" y2="257.30" stroke="#000" stroke-width="1.0" />
<text x="395.20" y="259.20" font-size="5.4" font-weight="bold" text-anchor="end" fill="#222">20</text>
<line x1="395.40" y1="241.30" x2="398.20" y2="241.30" stroke="#000" stroke-width="1.0" />
<text x="395.20" y="243.20" font-size="5.4" font-weight="bold" text-anchor="end" fill="#222">40</text>
<line x1="395.40" y1="225.30" x2="398.20" y2="225.30" stroke="#000" stroke-width="1.0" />
<text x="395.20" y="227.20" font-size="5.4" font-weight="bold" text-anchor="end" fill="#222">60</text>
<line x1="395.40" y1="209.30" x2="398.20" y2="209.30" stroke="#000" stroke-width="1.0" />
<text x="395.20" y="211.20" font-size="5.4" font-weight="bold" text-anchor="end" fill="#222">80</text>
<line x1="395.40" y1="193.30" x2="398.20" y2="193.30" stroke="#000" stroke-width="1.0" />
<text x="395.20" y="195.20" font-size="5.4" font-weight="bold" text-anchor="end" fill="#222">100</text>
<rect x="404.95" y="243.55" width="8.20" height="29.75" fill="#fff" stroke="#000" stroke-width="1.3" />
<line x1="409.05" y1="242.90" x2="409.05" y2="240.90" stroke="#000" stroke-width="1.2" />
<line x1="406.45" y1="240.90" x2="411.65" y2="240.90" stroke="#000" stroke-width="1.2" />
<rect x="417.75" y="240.83" width="7.80" height="32.47" fill="#fff" stroke="#000" stroke-width="1.3" />
<line x1="421.65" y1="240.18" x2="421.65" y2="238.18" stroke="#000" stroke-width="1.2" />
<line x1="419.05" y1="238.18" x2="424.25" y2="238.18" stroke="#000" stroke-width="1.2" />
<rect x="430.85" y="218.99" width="7.90" height="54.31" fill="#fff" stroke="#000" stroke-width="1.3" />
<line x1="434.80" y1="218.34" x2="434.80" y2="217.38" stroke="#000" stroke-width="1.2" />
<line x1="432.20" y1="217.38" x2="437.40" y2="217.38" stroke="#000" stroke-width="1.2" />
<rect x="443.65" y="201.23" width="7.80" height="72.07" fill="#fff" stroke="#000" stroke-width="1.3" />
<line x1="447.55" y1="200.58" x2="447.55" y2="198.58" stroke="#000" stroke-width="1.2" />
<line x1="444.95" y1="198.58" x2="450.15" y2="198.58" stroke="#000" stroke-width="1.2" />
<rect x="464.10" y="223.78" width="9.30" height="49.52" fill="#000" stroke="none" stroke-width="0" />
<line x1="468.75" y1="223.78" x2="468.75" y2="221.78" stroke="#000" stroke-width="1.2" />
<line x1="466.15" y1="221.78" x2="471.35" y2="221.78" stroke="#000" stroke-width="1.2" />
<rect x="476.80" y="226.66" width="9.60" height="46.64" fill="#000" stroke="none" stroke-width="0" />
<line x1="481.60" y1="226.66" x2="481.60" y2="224.90" stroke="#000" stroke-width="1.2" />
<line x1="479.00" y1="224.90" x2="484.20" y2="224.90" stroke="#000" stroke-width="1.2" />
<rect x="490.10" y="247.30" width="8.90" height="26.00" fill="#000" stroke="none" stroke-width="0" />
<rect x="502.40" y="266.74" width="9.40" height="6.56" fill="#000" stroke="none" stroke-width="0" />
<path d="M433.0,213.5 L433.0,180.5 L446.0,180.5 L446.0,194.3" fill="none" stroke="#000" stroke-width="1.1" />
<polygon points="439.40,174.50 439.92,175.89 441.40,175.95 440.24,176.87 440.63,178.30 439.40,177.48 438.17,178.30 438.56,176.87 437.40,175.95 438.88,175.89" fill="#000" stroke="#000" stroke-width="0.59" stroke-linejoin="round"/>
<path d="M494.3,244.7 L494.3,234.3 L508.2,234.3 L508.2,264.7" fill="none" stroke="#000" stroke-width="1.1" />
<polygon points="501.10,227.80 501.62,229.19 503.10,229.25 501.94,230.17 502.33,231.60 501.10,230.78 499.87,231.60 500.26,230.17 499.10,229.25 500.58,229.19" fill="#000" stroke="#000" stroke-width="0.59" stroke-linejoin="round"/>
<rect x="474.00" y="195.00" width="9.00" height="4.00" fill="#fff" stroke="#000" stroke-width="1.1" />
<rect x="473.40" y="203.00" width="10.10" height="4.90" fill="#000" stroke="none" stroke-width="0" />
<text x="486.60" y="199.40" font-size="6.4"  text-anchor="start" fill="#111">G0/G1</text>
<text x="486.60" y="208.10" font-size="6.6"  text-anchor="start" fill="#111">S+G2/M</text>
<line x1="409.05" y1="273.30" x2="409.05" y2="275.60" stroke="#000" stroke-width="1.0" />
<text transform="translate(410.85,280.50) rotate(-45)" font-size="6.2" font-weight="bold" text-anchor="end" >Mac-1</text>
<line x1="421.65" y1="273.30" x2="421.65" y2="275.60" stroke="#000" stroke-width="1.0" />
<text transform="translate(423.45,280.50) rotate(-45)" font-size="6.2" font-weight="bold" text-anchor="end" >Mac-1-sh0</text>
<line x1="434.80" y1="273.30" x2="434.80" y2="275.60" stroke="#000" stroke-width="1.0" />
<text transform="translate(436.60,280.50) rotate(-45)" font-size="6.2" font-weight="bold" text-anchor="end" >Mac-1-sh1</text>
<line x1="447.55" y1="273.30" x2="447.55" y2="275.60" stroke="#000" stroke-width="1.0" />
<text transform="translate(449.35,280.50) rotate(-45)" font-size="6.2" font-weight="bold" text-anchor="end" >Mac-1-sh2</text>
<line x1="468.75" y1="273.30" x2="468.75" y2="275.60" stroke="#000" stroke-width="1.0" />
<text transform="translate(470.55,280.50) rotate(-45)" font-size="6.2" font-weight="bold" text-anchor="end" >Mac-1</text>
<line x1="481.60" y1="273.30" x2="481.60" y2="275.60" stroke="#000" stroke-width="1.0" />
<text transform="translate(483.40,280.50) rotate(-45)" font-size="6.2" font-weight="bold" text-anchor="end" >Mac-1-sh0</text>
<line x1="494.55" y1="273.30" x2="494.55" y2="275.60" stroke="#000" stroke-width="1.0" />
<text transform="translate(496.35,280.50) rotate(-45)" font-size="6.2" font-weight="bold" text-anchor="end" >Mac-1-sh1</text>
<line x1="507.10" y1="273.30" x2="507.10" y2="275.60" stroke="#000" stroke-width="1.0" />
<text transform="translate(508.90,280.50) rotate(-45)" font-size="6.2" font-weight="bold" text-anchor="end" >Mac-1-sh2</text>
<text transform="translate(382.20,234.10) rotate(-90)" font-size="6.45" font-weight="bold" text-anchor="middle" fill="#111">Proportion in cell cycle distribution (%)</text>
<text x="0.60" y="338.00" font-size="11.2" font-weight="bold" text-anchor="start" >F</text>
<line x1="32.75" y1="336.00" x2="32.75" y2="483.80" stroke="#2a2a2a" stroke-width="1.5" />
<line x1="32.75" y1="483.80" x2="168.00" y2="483.80" stroke="#2a2a2a" stroke-width="1.5" />
<path d="M32.75,329.9 L34.0,336.6 L31.5,336.6Z" fill="#111" stroke="none" stroke-width="1" />
<path d="M174.3,483.8 L167.6,482.6 L167.6,485.0Z" fill="#111" stroke="none" stroke-width="1" />
<text transform="translate(29.30,401.60) rotate(-90)" font-size="7.3" font-weight="bold" text-anchor="middle" >Cell Number</text>
<text x="105.20" y="491.90" font-size="7.2" font-weight="bold" text-anchor="middle" >Annexin V</text>
<line x1="44.90" y1="342.60" x2="96.90" y2="342.60" stroke="#9a9a9a" stroke-width="0.8" />
<line x1="96.90" y1="342.60" x2="96.90" y2="392.40" stroke="#9a9a9a" stroke-width="0.8" />
<path d="M44.90,392.40 L44.90,386.00 L46.30,382.00 L48.50,369.60 L51.00,356.00 L53.60,347.50 L55.80,356.00 L58.20,378.00 L59.50,386.70 L62.00,389.60 L64.30,390.30 L76.50,391.20 L90.00,391.80 L96.90,391.80 L96.90,392.40 Z" fill="#000" stroke="#000" stroke-width="0.5" />
<line x1="44.90" y1="342.60" x2="44.90" y2="392.40" stroke="#111" stroke-width="1.0" />
<line x1="44.90" y1="392.40" x2="96.90" y2="392.40" stroke="#111" stroke-width="1.0" />
<line x1="61.90" y1="376.70" x2="90.90" y2="376.70" stroke="#999" stroke-width="0.8" />
<line x1="61.90" y1="375.50" x2="61.90" y2="377.90" stroke="#555" stroke-width="0.6" />
<line x1="90.90" y1="375.50" x2="90.90" y2="377.90" stroke="#555" stroke-width="0.6" />
<text x="68.20" y="370.80" font-size="2.7"  text-anchor="start" fill="#444">FL1-H subset</text>
<text x="68.20" y="374.30" font-size="2.9"  text-anchor="start" fill="#444">4.7%</text>
<text x="43.10" y="392.60" font-size="2.6"  text-anchor="end" fill="#444">0</text>
<line x1="43.70" y1="391.60" x2="44.90" y2="391.60" stroke="#444" stroke-width="0.5" />
<text x="43.10" y="384.20" font-size="2.6"  text-anchor="end" fill="#444">50</text>
<line x1="43.70" y1="383.20" x2="44.90" y2="383.20" stroke="#444" stroke-width="0.5" />
<text x="43.10" y="375.80" font-size="2.6"  text-anchor="end" fill="#444">100</text>
<line x1="43.70" y1="374.80" x2="44.90" y2="374.80" stroke="#444" stroke-width="0.5" />
<text x="43.10" y="367.40" font-size="2.6"  text-anchor="end" fill="#444">150</text>
<line x1="43.70" y1="366.40" x2="44.90" y2="366.40" stroke="#444" stroke-width="0.5" />
<text x="43.10" y="359.00" font-size="2.6"  text-anchor="end" fill="#444">200</text>
<line x1="43.70" y1="358.00" x2="44.90" y2="358.00" stroke="#444" stroke-width="0.5" />
<text x="43.10" y="350.60" font-size="2.6"  text-anchor="end" fill="#444">250</text>
<line x1="43.70" y1="349.60" x2="44.90" y2="349.60" stroke="#444" stroke-width="0.5" />
<text x="46.70" y="396.00" font-size="2.6"  text-anchor="middle" fill="#444">10</text>
<line x1="46.70" y1="392.40" x2="46.70" y2="393.60" stroke="#444" stroke-width="0.5" />
<text x="58.95" y="396.00" font-size="2.6"  text-anchor="middle" fill="#444">10</text>
<line x1="58.95" y1="392.40" x2="58.95" y2="393.60" stroke="#444" stroke-width="0.5" />
<text x="71.20" y="396.00" font-size="2.6"  text-anchor="middle" fill="#444">10</text>
<line x1="71.20" y1="392.40" x2="71.20" y2="393.60" stroke="#444" stroke-width="0.5" />
<text x="83.45" y="396.00" font-size="2.6"  text-anchor="middle" fill="#444">10</text>
<line x1="83.45" y1="392.40" x2="83.45" y2="393.60" stroke="#444" stroke-width="0.5" />
<text x="95.70" y="396.00" font-size="2.6"  text-anchor="middle" fill="#444">10</text>
<line x1="95.70" y1="392.40" x2="95.70" y2="393.60" stroke="#444" stroke-width="0.5" />
<text x="64.40" y="338.30" font-size="7.05"  text-anchor="middle" fill="#111">Mac-1</text>
<line x1="119.50" y1="342.90" x2="170.90" y2="342.90" stroke="#9a9a9a" stroke-width="0.8" />
<line x1="170.90" y1="342.90" x2="170.90" y2="392.40" stroke="#9a9a9a" stroke-width="0.8" />
<path d="M119.50,392.40 L119.50,386.70 L121.90,384.20 L123.70,368.40 L126.20,356.20 L128.40,349.20 L130.40,358.70 L132.20,378.10 L133.50,386.70 L135.90,390.30 L150.50,391.30 L163.00,391.80 L170.90,391.80 L170.90,392.40 Z" fill="#000" stroke="#000" stroke-width="0.5" />
<line x1="119.50" y1="342.90" x2="119.50" y2="392.40" stroke="#111" stroke-width="1.0" />
<line x1="119.50" y1="392.40" x2="170.90" y2="392.40" stroke="#111" stroke-width="1.0" />
<line x1="136.10" y1="377.20" x2="164.90" y2="377.20" stroke="#999" stroke-width="0.8" />
<line x1="136.10" y1="376.00" x2="136.10" y2="378.40" stroke="#555" stroke-width="0.6" />
<line x1="164.90" y1="376.00" x2="164.90" y2="378.40" stroke="#555" stroke-width="0.6" />
<text x="142.60" y="370.80" font-size="2.7"  text-anchor="start" fill="#444">FL1-H subset</text>
<text x="142.60" y="374.30" font-size="2.9"  text-anchor="start" fill="#444">3.65%</text>
<text x="117.70" y="392.60" font-size="2.6"  text-anchor="end" fill="#444">0</text>
<line x1="118.30" y1="391.60" x2="119.50" y2="391.60" stroke="#444" stroke-width="0.5" />
<text x="117.70" y="384.20" font-size="2.6"  text-anchor="end" fill="#444">50</text>
<line x1="118.30" y1="383.20" x2="119.50" y2="383.20" stroke="#444" stroke-width="0.5" />
<text x="117.70" y="375.80" font-size="2.6"  text-anchor="end" fill="#444">100</text>
<line x1="118.30" y1="374.80" x2="119.50" y2="374.80" stroke="#444" stroke-width="0.5" />
<text x="117.70" y="367.40" font-size="2.6"  text-anchor="end" fill="#444">150</text>
<line x1="118.30" y1="366.40" x2="119.50" y2="366.40" stroke="#444" stroke-width="0.5" />
<text x="117.70" y="359.00" font-size="2.6"  text-anchor="end" fill="#444">200</text>
<line x1="118.30" y1="358.00" x2="119.50" y2="358.00" stroke="#444" stroke-width="0.5" />
<text x="117.70" y="350.60" font-size="2.6"  text-anchor="end" fill="#444">250</text>
<line x1="118.30" y1="349.60" x2="119.50" y2="349.60" stroke="#444" stroke-width="0.5" />
<text x="121.30" y="396.00" font-size="2.6"  text-anchor="middle" fill="#444">10</text>
<line x1="121.30" y1="392.40" x2="121.30" y2="393.60" stroke="#444" stroke-width="0.5" />
<text x="133.40" y="396.00" font-size="2.6"  text-anchor="middle" fill="#444">10</text>
<line x1="133.40" y1="392.40" x2="133.40" y2="393.60" stroke="#444" stroke-width="0.5" />
<text x="145.50" y="396.00" font-size="2.6"  text-anchor="middle" fill="#444">10</text>
<line x1="145.50" y1="392.40" x2="145.50" y2="393.60" stroke="#444" stroke-width="0.5" />
<text x="157.60" y="396.00" font-size="2.6"  text-anchor="middle" fill="#444">10</text>
<line x1="157.60" y1="392.40" x2="157.60" y2="393.60" stroke="#444" stroke-width="0.5" />
<text x="169.70" y="396.00" font-size="2.6"  text-anchor="middle" fill="#444">10</text>
<line x1="169.70" y1="392.40" x2="169.70" y2="393.60" stroke="#444" stroke-width="0.5" />
<text x="146.65" y="337.30" font-size="7.05"  text-anchor="middle" fill="#111">Mac-1-sh0</text>
<line x1="44.30" y1="423.50" x2="97.20" y2="423.50" stroke="#9a9a9a" stroke-width="0.8" />
<line x1="97.20" y1="423.50" x2="97.20" y2="472.50" stroke="#9a9a9a" stroke-width="0.8" />
<path d="M44.30,472.50 L44.30,467.90 L47.30,467.30 L50.30,467.30 L52.80,464.80 L54.40,460.60 L55.80,454.50 L58.20,443.50 L60.10,446.00 L61.90,454.50 L63.70,461.80 L65.50,464.80 L67.40,464.80 L70.40,464.00 L72.80,463.60 L74.70,462.40 L75.90,463.60 L78.30,466.70 L80.80,471.50 L82.60,472.30 L90.00,472.40 L97.20,471.90 L97.20,472.50 Z" fill="#000" stroke="#000" stroke-width="0.5" />
<line x1="44.30" y1="423.50" x2="44.30" y2="472.50" stroke="#111" stroke-width="1.0" />
<line x1="44.30" y1="472.50" x2="97.20" y2="472.50" stroke="#111" stroke-width="1.0" />
<line x1="65.30" y1="453.90" x2="94.70" y2="453.90" stroke="#999" stroke-width="0.8" />
<line x1="65.30" y1="452.70" x2="65.30" y2="455.10" stroke="#555" stroke-width="0.6" />
<line x1="94.70" y1="452.70" x2="94.70" y2="455.10" stroke="#555" stroke-width="0.6" />
<text x="71.90" y="447.70" font-size="2.7"  text-anchor="start" fill="#444">FL1-H subset</text>
<text x="71.90" y="451.20" font-size="2.9"  text-anchor="start" fill="#444">28.3%</text>
<text x="42.50" y="472.70" font-size="2.6"  text-anchor="end" fill="#444">0</text>
<line x1="43.10" y1="471.70" x2="44.30" y2="471.70" stroke="#444" stroke-width="0.5" />
<text x="42.50" y="464.30" font-size="2.6"  text-anchor="end" fill="#444">50</text>
<line x1="43.10" y1="463.30" x2="44.30" y2="463.30" stroke="#444" stroke-width="0.5" />
<text x="42.50" y="455.90" font-size="2.6"  text-anchor="end" fill="#444">100</text>
<line x1="43.10" y1="454.90" x2="44.30" y2="454.90" stroke="#444" stroke-width="0.5" />
<text x="42.50" y="447.50" font-size="2.6"  text-anchor="end" fill="#444">150</text>
<line x1="43.10" y1="446.50" x2="44.30" y2="446.50" stroke="#444" stroke-width="0.5" />
<text x="42.50" y="439.10" font-size="2.6"  text-anchor="end" fill="#444">200</text>
<line x1="43.10" y1="438.10" x2="44.30" y2="438.10" stroke="#444" stroke-width="0.5" />
<text x="42.50" y="430.70" font-size="2.6"  text-anchor="end" fill="#444">250</text>
<line x1="43.10" y1="429.70" x2="44.30" y2="429.70" stroke="#444" stroke-width="0.5" />
<text x="46.10" y="476.10" font-size="2.6"  text-anchor="middle" fill="#444">10</text>
<line x1="46.10" y1="472.50" x2="46.10" y2="473.70" stroke="#444" stroke-width="0.5" />
<text x="58.57" y="476.10" font-size="2.6"  text-anchor="middle" fill="#444">10</text>
<line x1="58.57" y1="472.50" x2="58.57" y2="473.70" stroke="#444" stroke-width="0.5" />
<text x="71.05" y="476.10" font-size="2.6"  text-anchor="middle" fill="#444">10</text>
<line x1="71.05" y1="472.50" x2="71.05" y2="473.70" stroke="#444" stroke-width="0.5" />
<text x="83.53" y="476.10" font-size="2.6"  text-anchor="middle" fill="#444">10</text>
<line x1="83.53" y1="472.50" x2="83.53" y2="473.70" stroke="#444" stroke-width="0.5" />
<text x="96.00" y="476.10" font-size="2.6"  text-anchor="middle" fill="#444">10</text>
<line x1="96.00" y1="472.50" x2="96.00" y2="473.70" stroke="#444" stroke-width="0.5" />
<text x="68.70" y="418.60" font-size="7.05"  text-anchor="middle" fill="#111">Mac-1-sh1</text>
<line x1="118.60" y1="423.50" x2="170.60" y2="423.50" stroke="#9a9a9a" stroke-width="0.8" />
<line x1="170.60" y1="423.50" x2="170.60" y2="472.50" stroke="#9a9a9a" stroke-width="0.8" />
<path d="M118.60,472.50 L118.90,466.70 L121.30,466.70 L123.70,464.80 L126.20,460.00 L128.00,453.30 L129.80,445.40 L131.00,448.40 L132.20,454.50 L133.50,461.80 L135.30,466.70 L137.70,466.70 L140.20,466.10 L142.60,464.00 L145.60,463.60 L149.30,463.00 L150.50,464.20 L152.30,469.10 L154.10,472.10 L157.00,472.40 L170.60,471.90 L170.60,472.50 Z" fill="#000" stroke="#000" stroke-width="0.5" />
<line x1="118.60" y1="423.50" x2="118.60" y2="472.50" stroke="#111" stroke-width="1.0" />
<line x1="118.60" y1="472.50" x2="170.60" y2="472.50" stroke="#111" stroke-width="1.0" />
<line x1="135.30" y1="457.20" x2="164.50" y2="457.20" stroke="#999" stroke-width="0.8" />
<line x1="135.30" y1="456.00" x2="135.30" y2="458.40" stroke="#555" stroke-width="0.6" />
<line x1="164.50" y1="456.00" x2="164.50" y2="458.40" stroke="#555" stroke-width="0.6" />
<text x="142.20" y="450.80" font-size="2.7"  text-anchor="start" fill="#444">FL1-H subset</text>
<text x="142.20" y="454.30" font-size="2.9"  text-anchor="start" fill="#444">36.9%</text>
<text x="116.80" y="472.70" font-size="2.6"  text-anchor="end" fill="#444">0</text>
<line x1="117.40" y1="471.70" x2="118.60" y2="471.70" stroke="#444" stroke-width="0.5" />
<text x="116.80" y="464.30" font-size="2.6"  text-anchor="end" fill="#444">50</text>
<line x1="117.40" y1="463.30" x2="118.60" y2="463.30" stroke="#444" stroke-width="0.5" />
<text x="116.80" y="455.90" font-size="2.6"  text-anchor="end" fill="#444">100</text>
<line x1="117.40" y1="454.90" x2="118.60" y2="454.90" stroke="#444" stroke-width="0.5" />
<text x="116.80" y="447.50" font-size="2.6"  text-anchor="end" fill="#444">150</text>
<line x1="117.40" y1="446.50" x2="118.60" y2="446.50" stroke="#444" stroke-width="0.5" />
<text x="116.80" y="439.10" font-size="2.6"  text-anchor="end" fill="#444">200</text>
<line x1="117.40" y1="438.10" x2="118.60" y2="438.10" stroke="#444" stroke-width="0.5" />
<text x="116.80" y="430.70" font-size="2.6"  text-anchor="end" fill="#444">250</text>
<line x1="117.40" y1="429.70" x2="118.60" y2="429.70" stroke="#444" stroke-width="0.5" />
<text x="120.40" y="476.10" font-size="2.6"  text-anchor="middle" fill="#444">10</text>
<line x1="120.40" y1="472.50" x2="120.40" y2="473.70" stroke="#444" stroke-width="0.5" />
<text x="132.65" y="476.10" font-size="2.6"  text-anchor="middle" fill="#444">10</text>
<line x1="132.65" y1="472.50" x2="132.65" y2="473.70" stroke="#444" stroke-width="0.5" />
<text x="144.90" y="476.10" font-size="2.6"  text-anchor="middle" fill="#444">10</text>
<line x1="144.90" y1="472.50" x2="144.90" y2="473.70" stroke="#444" stroke-width="0.5" />
<text x="157.15" y="476.10" font-size="2.6"  text-anchor="middle" fill="#444">10</text>
<line x1="157.15" y1="472.50" x2="157.15" y2="473.70" stroke="#444" stroke-width="0.5" />
<text x="169.40" y="476.10" font-size="2.6"  text-anchor="middle" fill="#444">10</text>
<line x1="169.40" y1="472.50" x2="169.40" y2="473.70" stroke="#444" stroke-width="0.5" />
<text x="142.70" y="418.60" font-size="7.05"  text-anchor="middle" fill="#111">Mac-1-sh2</text>
<text x="192.20" y="338.30" font-size="10.8" font-weight="bold" text-anchor="start" >G</text>
<line x1="212.00" y1="358.70" x2="212.00" y2="443.10" stroke="#000" stroke-width="1.1" />
<line x1="211.50" y1="442.60" x2="336.30" y2="442.60" stroke="#000" stroke-width="1.1" />
<line x1="209.00" y1="442.60" x2="212.00" y2="442.60" stroke="#000" stroke-width="1.0" />
<text x="208.70" y="444.60" font-size="5.6" font-weight="bold" text-anchor="end" fill="#222">0</text>
<line x1="209.00" y1="425.85" x2="212.00" y2="425.85" stroke="#000" stroke-width="1.0" />
<text x="208.70" y="427.85" font-size="5.6" font-weight="bold" text-anchor="end" fill="#222">10</text>
<line x1="209.00" y1="409.10" x2="212.00" y2="409.10" stroke="#000" stroke-width="1.0" />
<text x="208.70" y="411.10" font-size="5.6" font-weight="bold" text-anchor="end" fill="#222">20</text>
<line x1="209.00" y1="392.35" x2="212.00" y2="392.35" stroke="#000" stroke-width="1.0" />
<text x="208.70" y="394.35" font-size="5.6" font-weight="bold" text-anchor="end" fill="#222">30</text>
<line x1="209.00" y1="375.60" x2="212.00" y2="375.60" stroke="#000" stroke-width="1.0" />
<text x="208.70" y="377.60" font-size="5.6" font-weight="bold" text-anchor="end" fill="#222">40</text>
<line x1="209.00" y1="358.85" x2="212.00" y2="358.85" stroke="#000" stroke-width="1.0" />
<text x="208.70" y="360.85" font-size="5.6" font-weight="bold" text-anchor="end" fill="#222">50</text>
<rect x="216.30" y="431.21" width="21.50" height="11.39" fill="#000" stroke="none" stroke-width="0" />
<line x1="227.05" y1="431.21" x2="227.05" y2="429.54" stroke="#000" stroke-width="1.3" />
<line x1="221.55" y1="429.54" x2="232.55" y2="429.54" stroke="#000" stroke-width="1.3" />
<rect x="247.50" y="432.72" width="21.60" height="9.88" fill="#000" stroke="none" stroke-width="0" />
<line x1="258.30" y1="432.72" x2="258.30" y2="430.88" stroke="#000" stroke-width="1.3" />
<line x1="252.80" y1="430.88" x2="263.80" y2="430.88" stroke="#000" stroke-width="1.3" />
<rect x="278.50" y="394.53" width="21.50" height="48.07" fill="#000" stroke="none" stroke-width="0" />
<line x1="289.25" y1="394.53" x2="289.25" y2="391.85" stroke="#000" stroke-width="1.3" />
<line x1="283.75" y1="391.85" x2="294.75" y2="391.85" stroke="#000" stroke-width="1.3" />
<rect x="309.50" y="380.62" width="21.50" height="61.98" fill="#000" stroke="none" stroke-width="0" />
<line x1="320.25" y1="380.62" x2="320.25" y2="378.78" stroke="#000" stroke-width="1.3" />
<line x1="314.75" y1="378.78" x2="325.75" y2="378.78" stroke="#000" stroke-width="1.3" />
<path d="M289.3,385.8 L289.3,355.4 L321.3,355.4 L321.3,373.7" fill="none" stroke="#000" stroke-width="1.0" />
<polygon points="306.00,347.70 306.47,348.95 307.81,349.01 306.76,349.85 307.12,351.14 306.00,350.40 304.88,351.14 305.24,349.85 304.19,349.01 305.53,348.95" fill="#000" stroke="#000" stroke-width="0.54" stroke-linejoin="round"/>
<line x1="227.05" y1="442.60" x2="227.05" y2="445.10" stroke="#000" stroke-width="1.0" />
<text transform="translate(228.85,451.00) rotate(-45)" font-size="6.6" font-weight="bold" text-anchor="end" >Mac-1</text>
<line x1="258.30" y1="442.60" x2="258.30" y2="445.10" stroke="#000" stroke-width="1.0" />
<text transform="translate(260.10,451.00) rotate(-45)" font-size="6.6" font-weight="bold" text-anchor="end" >Mac-1-sh0</text>
<line x1="289.25" y1="442.60" x2="289.25" y2="445.10" stroke="#000" stroke-width="1.0" />
<text transform="translate(291.05,451.00) rotate(-45)" font-size="6.6" font-weight="bold" text-anchor="end" >Mac-1-sh1</text>
<line x1="320.25" y1="442.60" x2="320.25" y2="445.10" stroke="#000" stroke-width="1.0" />
<text transform="translate(322.05,451.00) rotate(-45)" font-size="6.6" font-weight="bold" text-anchor="end" >Mac-1-sh2</text>
<text transform="translate(198.40,401.20) rotate(-90)" font-size="6.8" font-weight="bold" text-anchor="middle" >AnnexinV+ Population(%)</text>
</g>
</svg></div>
</body></html>
